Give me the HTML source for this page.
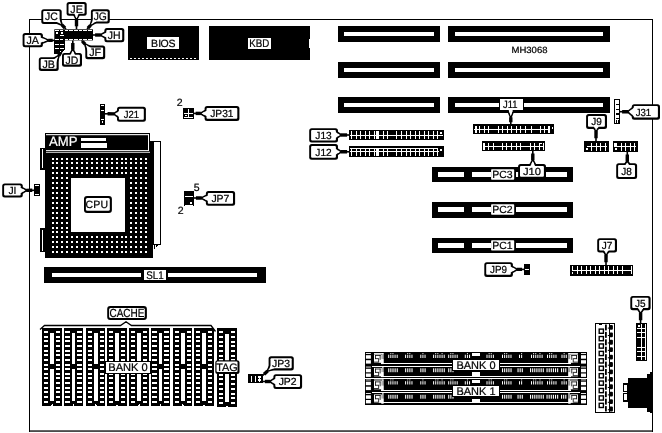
<!DOCTYPE html>
<html><head><meta charset="utf-8"><title>MH3068 motherboard layout</title>
<style>
html,body{margin:0;padding:0;background:#fff;}
body{width:662px;height:433px;overflow:hidden;}
svg{display:block;font-family:"Liberation Sans",Arial,sans-serif;will-change:transform;}
text{stroke-width:0.22px;}
</style></head><body>
<svg width="662" height="433" viewBox="0 0 662 433" shape-rendering="crispEdges" text-rendering="geometricPrecision">
<rect x="0" y="0" width="662" height="433" fill="#fff"/>
<rect x="29" y="19" width="624" height="1" fill="#000"/>
<rect x="29" y="19" width="1" height="412.5" fill="#000"/>
<rect x="652" y="19" width="1" height="412.5" fill="#000"/>
<rect x="29" y="430.4" width="624" height="1.3" fill="#000" shape-rendering="auto"/>
<polygon points="39.0006,36.75 41,36.8 49,40.4 41,43.6 39.0006,43.55" fill="#fff" stroke="#000" stroke-width="1.6" shape-rendering="auto"/>
<line x1="49" y1="40.4" x2="54.3" y2="40.4" stroke="#000" stroke-width="1.6" shape-rendering="auto"/>
<line x1="48.2002" y1="40.38" x2="52.71" y2="40.4" stroke="#000" stroke-width="3.4" shape-rendering="auto"/>
<rect x="22.6" y="33" width="20.3" height="14.3" rx="2.5" fill="#000" shape-rendering="auto"/>
<rect x="24.5" y="34.9" width="16.3" height="10.3" rx="1" fill="#fff" shape-rendering="auto"/>
<polygon points="37.5011,37.7125 41,37.8 47.0006,40.35 41,42.6 37.5011,42.5125" fill="#fff" shape-rendering="auto"/>
<text x="32.65" y="43.884" font-size="10.8" stroke="#000" text-anchor="middle" textLength="12.5" lengthAdjust="spacingAndGlyphs">JA</text>
<polygon points="54.1225,21.05 55.5,22.5 62.5,25.5 60,18.5 58.6225,17.05" fill="#fff" stroke="#000" stroke-width="1.6" shape-rendering="auto"/>
<line x1="62.5" y1="25.5" x2="66" y2="29" stroke="#000" stroke-width="1.6" shape-rendering="auto"/>
<line x1="61.949" y1="24.92" x2="64.95" y2="27.95" stroke="#000" stroke-width="3.4" shape-rendering="auto"/>
<rect x="41.3" y="9.2" width="20.4" height="14.8" rx="2.5" fill="#000" shape-rendering="auto"/>
<rect x="43.2" y="11.1" width="16.4" height="10.8" rx="1" fill="#fff" shape-rendering="auto"/>
<polygon points="53.8368,19.2981 56.2474,21.8356 61.1225,24.05 59.2526,19.1644 56.842,16.6269" fill="#fff" shape-rendering="auto"/>
<text x="51.4" y="20.334" font-size="10.8" stroke="#000" text-anchor="middle" textLength="12.8" lengthAdjust="spacingAndGlyphs">JC</text>
<polygon points="73.5,12 73.5,14 76.5,20 79.5,14 79.5,12" fill="#fff" stroke="#000" stroke-width="1.6" shape-rendering="auto"/>
<line x1="76.5" y1="20" x2="76.5" y2="29" stroke="#000" stroke-width="1.6" shape-rendering="auto"/>
<line x1="76.5" y1="19.2" x2="76.5" y2="26.3" stroke="#000" stroke-width="3.4" shape-rendering="auto"/>
<rect x="66.6" y="2.1" width="20.1" height="13.7" rx="2.5" fill="#000" shape-rendering="auto"/>
<rect x="68.5" y="4" width="16.1" height="9.7" rx="1" fill="#fff" shape-rendering="auto"/>
<polygon points="74.5,10.5 74.5,14 76.5,18 78.5,14 78.5,10.5" fill="#fff" shape-rendering="auto"/>
<text x="76.55" y="12.684" font-size="10.8" stroke="#000" text-anchor="middle" textLength="12.5" lengthAdjust="spacingAndGlyphs">JE</text>
<polygon points="93.7414,16.4319 92.5,18 90,26 97,22 98.2414,20.4319" fill="#fff" stroke="#000" stroke-width="1.6" shape-rendering="auto"/>
<line x1="90" y1="26" x2="87" y2="29" stroke="#000" stroke-width="1.6" shape-rendering="auto"/>
<line x1="90.4966" y1="25.3728" x2="87.9" y2="28.1" stroke="#000" stroke-width="3.4" shape-rendering="auto"/>
<rect x="90.9" y="9.3" width="18.9" height="14.2" rx="2.5" fill="#000" shape-rendering="auto"/>
<rect x="92.8" y="11.2" width="14.9" height="10.2" rx="1" fill="#fff" shape-rendering="auto"/>
<polygon points="95.4199,15.9202 93.2474,18.6644 91.2414,24.4319 96.2526,21.3356 98.4251,18.5915" fill="#fff" shape-rendering="auto"/>
<text x="100.25" y="20.134" font-size="10.8" stroke="#000" text-anchor="middle" textLength="13.2" lengthAdjust="spacingAndGlyphs">JG</text>
<polygon points="108.3,31.5 106.3,31.5 100,35 106.3,38.5 108.3,38.5" fill="#fff" stroke="#000" stroke-width="1.6" shape-rendering="auto"/>
<line x1="100" y1="35" x2="93" y2="35" stroke="#000" stroke-width="1.6" shape-rendering="auto"/>
<line x1="100.8" y1="35" x2="95.1" y2="35" stroke="#000" stroke-width="3.4" shape-rendering="auto"/>
<rect x="104.4" y="28" width="19.9" height="14.3" rx="2.5" fill="#000" shape-rendering="auto"/>
<rect x="106.3" y="29.9" width="15.9" height="10.3" rx="1" fill="#fff" shape-rendering="auto"/>
<polygon points="109.8,32.5 106.3,32.5 102,35 106.3,37.5 109.8,37.5" fill="#fff" shape-rendering="auto"/>
<text x="114.25" y="38.884" font-size="10.8" stroke="#000" text-anchor="middle" textLength="12.8" lengthAdjust="spacingAndGlyphs">JH</text>
<polygon points="88.293,53.0258 87,51.5 84.5,43.5 92,47.3 93.293,48.8258" fill="#fff" stroke="#000" stroke-width="1.6" shape-rendering="auto"/>
<line x1="84.5" y1="43.5" x2="81.5" y2="40.5" stroke="#000" stroke-width="1.6" shape-rendering="auto"/>
<line x1="85.0172" y1="44.1103" x2="82.4" y2="41.4" stroke="#000" stroke-width="3.4" shape-rendering="auto"/>
<rect x="85.3" y="45.6" width="19.9" height="13.6" rx="2.5" fill="#000" shape-rendering="auto"/>
<rect x="87.2" y="47.5" width="15.9" height="9.6" rx="1" fill="#fff" shape-rendering="auto"/>
<polygon points="90.0285,53.5269 87.7657,50.8568 85.793,45.0258 91.2343,47.9432 93.4971,50.6133" fill="#fff" shape-rendering="auto"/>
<text x="95.15" y="56.134" font-size="10.8" stroke="#000" text-anchor="middle" textLength="12" lengthAdjust="spacingAndGlyphs">JF</text>
<polygon points="69.4828,56.7999 69.5,54.8 72.8,49 76,54.8 75.9828,56.7999" fill="#fff" stroke="#000" stroke-width="1.6" shape-rendering="auto"/>
<line x1="72.8" y1="49" x2="72.8" y2="40.5" stroke="#000" stroke-width="1.6" shape-rendering="auto"/>
<line x1="72.7931" y1="49.8" x2="72.8" y2="43.05" stroke="#000" stroke-width="3.4" shape-rendering="auto"/>
<rect x="62" y="52.9" width="20" height="13.8" rx="2.5" fill="#000" shape-rendering="auto"/>
<rect x="63.9" y="54.8" width="16" height="9.8" rx="1" fill="#fff" shape-rendering="auto"/>
<polygon points="70.4698,58.2999 70.5,54.8 72.7828,50.9999 75,54.8 74.9698,58.2999" fill="#fff" shape-rendering="auto"/>
<text x="71.9" y="63.534" font-size="10.8" stroke="#000" text-anchor="middle" textLength="12.8" lengthAdjust="spacingAndGlyphs">JD</text>
<polygon points="51.2915,60.5936 52.5,59 59.3,55 57,63 55.7915,64.5936" fill="#fff" stroke="#000" stroke-width="1.6" shape-rendering="auto"/>
<line x1="59.3" y1="55" x2="61.8" y2="50.5" stroke="#000" stroke-width="1.6" shape-rendering="auto"/>
<line x1="58.8166" y1="55.6374" x2="61.05" y2="51.85" stroke="#000" stroke-width="3.4" shape-rendering="auto"/>
<rect x="38.8" y="57.2" width="19.9" height="13.7" rx="2.5" fill="#000" shape-rendering="auto"/>
<rect x="40.7" y="59.1" width="15.9" height="9.7" rx="1" fill="#fff" shape-rendering="auto"/>
<polygon points="51.1326,62.4532 53.2474,59.6644 58.0915,56.5936 56.2526,62.3356 54.1377,65.1244" fill="#fff" shape-rendering="auto"/>
<text x="48.65" y="67.784" font-size="10.8" stroke="#000" text-anchor="middle" textLength="12.5" lengthAdjust="spacingAndGlyphs">JB</text>
<rect x="54.3" y="29.3" width="38.7" height="11.1" fill="#000" shape-rendering="auto"/>
<polygon points="54.3,40 64.5,40 64.5,50 61,53.5 54.3,53.5" fill="#000" stroke="none" stroke-width="1"/>
<rect x="55.2" y="30" width="3.5" height="1" fill="#fff"/>
<rect x="55.2" y="39" width="3.5" height="1" fill="#fff"/>
<rect x="59.9" y="30" width="3.5" height="1" fill="#fff"/>
<rect x="59.9" y="39" width="3.5" height="1" fill="#fff"/>
<rect x="64.6" y="30" width="3.5" height="1" fill="#fff"/>
<rect x="64.6" y="39" width="3.5" height="1" fill="#fff"/>
<rect x="69.3" y="30" width="3.5" height="1" fill="#fff"/>
<rect x="69.3" y="39" width="3.5" height="1" fill="#fff"/>
<rect x="74" y="30" width="3.5" height="1" fill="#fff"/>
<rect x="74" y="39" width="3.5" height="1" fill="#fff"/>
<rect x="78.7" y="30" width="3.5" height="1" fill="#fff"/>
<rect x="78.7" y="39" width="3.5" height="1" fill="#fff"/>
<rect x="83.4" y="30" width="3.5" height="1" fill="#fff"/>
<rect x="83.4" y="39" width="3.5" height="1" fill="#fff"/>
<rect x="88.1" y="30" width="3.5" height="1" fill="#fff"/>
<rect x="88.1" y="39" width="3.5" height="1" fill="#fff"/>
<rect x="55.9" y="32" width="1.9" height="1.9" fill="#fff"/>
<rect x="61" y="32" width="2" height="1.9" fill="#fff"/>
<rect x="59.8" y="35" width="3.9" height="1" fill="#fff"/>
<rect x="55" y="44.3" width="3.6" height="1" fill="#fff"/>
<rect x="59.8" y="44.3" width="3.9" height="1" fill="#fff"/>
<rect x="55" y="48.2" width="3.6" height="1" fill="#fff"/>
<rect x="59.8" y="48.2" width="3.9" height="1" fill="#fff"/>
<rect x="59.8" y="51" width="1" height="1" fill="#fff"/>
<rect x="128" y="26" width="70.7" height="33.6" fill="#000"/>
<rect x="129.5" y="57.6" width="2" height="1" fill="#fff"/>
<rect x="133.5" y="57.6" width="2" height="1" fill="#fff"/>
<rect x="137.5" y="57.6" width="2" height="1" fill="#fff"/>
<rect x="141.5" y="57.6" width="2" height="1" fill="#fff"/>
<rect x="145.5" y="57.6" width="2" height="1" fill="#fff"/>
<rect x="149.5" y="57.6" width="2" height="1" fill="#fff"/>
<rect x="153.5" y="57.6" width="2" height="1" fill="#fff"/>
<rect x="157.5" y="57.6" width="2" height="1" fill="#fff"/>
<rect x="161.5" y="57.6" width="2" height="1" fill="#fff"/>
<rect x="165.5" y="57.6" width="2" height="1" fill="#fff"/>
<rect x="169.5" y="57.6" width="2" height="1" fill="#fff"/>
<rect x="173.5" y="57.6" width="2" height="1" fill="#fff"/>
<rect x="177.5" y="57.6" width="2" height="1" fill="#fff"/>
<rect x="181.5" y="57.6" width="2" height="1" fill="#fff"/>
<rect x="185.5" y="57.6" width="2" height="1" fill="#fff"/>
<rect x="189.5" y="57.6" width="2" height="1" fill="#fff"/>
<rect x="193.5" y="57.6" width="2" height="1" fill="#fff"/>
<rect x="146.9" y="37.3" width="32.3" height="11.4" fill="#fff"/>
<text x="151 158.3 160.6 168.4" y="46.9" font-size="10.5" stroke="#000">BIOS</text>
<rect x="209" y="26" width="101" height="34" fill="#000"/>
<rect x="308.5" y="39" width="1.5" height="9" fill="#fff"/>
<rect x="248" y="37.7" width="22.8" height="11.3" fill="#fff"/>
<text x="259.2" y="47" font-size="11" fill="#000" stroke="#000" text-anchor="middle" textLength="20" lengthAdjust="spacingAndGlyphs">KBD</text>
<rect x="338" y="26" width="102" height="16" fill="#000"/>
<rect x="344" y="32" width="90" height="4" fill="#fff"/>
<rect x="448" y="26" width="162" height="16" fill="#000"/>
<rect x="455" y="32" width="148" height="4" fill="#fff"/>
<rect x="338" y="62" width="102" height="16" fill="#000"/>
<rect x="344" y="68" width="90" height="4" fill="#fff"/>
<rect x="448" y="62" width="162" height="16" fill="#000"/>
<rect x="455" y="68" width="148" height="4" fill="#fff"/>
<rect x="338" y="97" width="102" height="16" fill="#000"/>
<rect x="344" y="103" width="90" height="4" fill="#fff"/>
<rect x="448" y="97" width="162" height="16" fill="#000"/>
<rect x="455" y="103" width="148" height="4" fill="#fff"/>
<text x="511.5" y="52.6" font-size="9" fill="#000" stroke="#000" text-anchor="start" textLength="36" lengthAdjust="spacingAndGlyphs">MH3068</text>
<polygon points="120.999,110.073 119,110 113.5,113.8 119,118 120.999,118.073" fill="#fff" stroke="#000" stroke-width="1.6" shape-rendering="auto"/>
<line x1="113.5" y1="113.8" x2="105" y2="113.8" stroke="#000" stroke-width="1.6" shape-rendering="auto"/>
<line x1="114.299" y1="113.829" x2="107.55" y2="113.8" stroke="#000" stroke-width="3.4" shape-rendering="auto"/>
<rect x="117" y="106.8" width="28.9" height="15" rx="2.5" fill="#000" shape-rendering="auto"/>
<rect x="118.9" y="108.7" width="24.9" height="11" rx="1" fill="#fff" shape-rendering="auto"/>
<polygon points="122.498,111.127 119,111 115.499,113.873 119,117 122.498,117.127" fill="#fff" shape-rendering="auto"/>
<text x="131.35" y="117.856" font-size="10.3" stroke="#000" text-anchor="middle" textLength="15.3" lengthAdjust="spacingAndGlyphs">J21</text>
<rect x="100.1" y="103.9" width="5" height="20.9" fill="#000"/>
<rect x="101.2" y="105" width="2.8" height="1" fill="#fff"/>
<rect x="101.2" y="110" width="2.8" height="1" fill="#fff"/>
<rect x="101.2" y="119" width="2.8" height="1.2" fill="#fff"/>
<rect x="102" y="121.3" width="1.3" height="1.7" fill="#fff"/>
<polygon points="208.5,109.7 206.5,109.7 200,113.4 206.5,117.1 208.5,117.1" fill="#fff" stroke="#000" stroke-width="1.6" shape-rendering="auto"/>
<line x1="200" y1="113.4" x2="193.8" y2="113.4" stroke="#000" stroke-width="1.6" shape-rendering="auto"/>
<line x1="200.8" y1="113.4" x2="195.66" y2="113.4" stroke="#000" stroke-width="3.4" shape-rendering="auto"/>
<rect x="204.6" y="106.1" width="34.8" height="14.8" rx="2.5" fill="#000" shape-rendering="auto"/>
<rect x="206.5" y="108" width="30.8" height="10.8" rx="1" fill="#fff" shape-rendering="auto"/>
<polygon points="210,110.7 206.5,110.7 202,113.4 206.5,116.1 210,116.1" fill="#fff" shape-rendering="auto"/>
<text x="221.9" y="117.056" font-size="10.3" stroke="#000" text-anchor="middle" textLength="23.3" lengthAdjust="spacingAndGlyphs">JP31</text>
<rect x="182.8" y="108" width="11" height="11" fill="#000"/>
<rect x="188" y="109.3" width="1" height="8" fill="#fff"/>
<rect x="184.2" y="112.5" width="8.7" height="1" fill="#fff"/>
<rect x="184.2" y="117" width="8.7" height="1" fill="#fff"/>
<rect x="185" y="115" width="2" height="1.2" fill="#fff"/>
<text x="176.8" y="105.6" font-size="10.5" fill="#000" stroke="#000" text-anchor="start">2</text>
<polygon points="209.499,194.762 207.5,194.7 201,198 207.5,201.7 209.499,201.762" fill="#fff" stroke="#000" stroke-width="1.6" shape-rendering="auto"/>
<line x1="201" y1="198" x2="193.8" y2="198" stroke="#000" stroke-width="1.6" shape-rendering="auto"/>
<line x1="201.8" y1="198.025" x2="195.96" y2="198" stroke="#000" stroke-width="3.4" shape-rendering="auto"/>
<rect x="205.9" y="191" width="29.2" height="14.8" rx="2.5" fill="#000" shape-rendering="auto"/>
<rect x="207.8" y="192.9" width="25.2" height="10.8" rx="1" fill="#fff" shape-rendering="auto"/>
<polygon points="210.998,195.808 207.5,195.7 202.999,198.062 207.5,200.7 210.998,200.808" fill="#fff" shape-rendering="auto"/>
<text x="220.4" y="201.957" font-size="10.3" stroke="#000" text-anchor="middle" textLength="18" lengthAdjust="spacingAndGlyphs">JP7</text>
<rect x="184" y="191.1" width="9.8" height="15.3" fill="#000"/>
<rect x="184.8" y="196" width="8" height="1" fill="#fff"/>
<rect x="184.8" y="204.8" width="8" height="1" fill="#fff"/>
<rect x="190" y="201.7" width="2" height="2" fill="#fff"/>
<text x="193.8" y="190.5" font-size="10.5" fill="#000" stroke="#000" text-anchor="start">5</text>
<text x="177.8" y="213.8" font-size="10.5" fill="#000" stroke="#000" text-anchor="start">2</text>
<rect x="45" y="133" width="105.3" height="20" fill="#000"/>
<rect x="45" y="152" width="108.3" height="106" fill="#000"/>
<rect x="46" y="134.1" width="103" height="1.1" fill="#fff" shape-rendering="auto"/>
<rect x="148" y="134.1" width="1" height="16.9" fill="#fff" shape-rendering="auto"/>
<rect x="46" y="150.1" width="103" height="0.9" fill="#fff" shape-rendering="auto"/>
<rect x="46" y="151.8" width="104" height="0.9" fill="#fff" shape-rendering="auto"/>
<text x="49" y="145.7" font-size="13.5" fill="#fff" stroke="#fff" text-anchor="start" textLength="28.5" lengthAdjust="spacingAndGlyphs">AMP</text>
<rect x="81" y="138" width="25" height="3" fill="#fff"/>
<rect x="81" y="142.5" width="26" height="5.5" fill="#fff"/>
<rect x="150" y="140.5" width="11.3" height="104.5" fill="#000"/>
<rect x="154.4" y="141.7" width="5.9" height="102" fill="#fff"/>
<polygon points="153.5,245 158,245 153.5,250" fill="#000" stroke="none" stroke-width="1"/>
<rect x="154.5" y="245" width="1.5" height="3" fill="#fff"/>
<rect x="40.3" y="147.5" width="5" height="22" fill="#000"/>
<rect x="41.8" y="149" width="1.6" height="19" fill="#fff"/>
<rect x="40.3" y="228" width="5" height="24" fill="#000"/>
<rect x="41.8" y="229.5" width="1.6" height="21" fill="#fff"/>
<rect x="51.5" y="157.5" width="2" height="2" fill="#fff"/>
<rect x="56" y="157.5" width="2" height="2" fill="#fff"/>
<rect x="61" y="157.5" width="2" height="2" fill="#fff"/>
<rect x="66" y="157.5" width="2" height="2" fill="#fff"/>
<rect x="71" y="157.5" width="2" height="2" fill="#fff"/>
<rect x="76" y="157.5" width="2" height="2" fill="#fff"/>
<rect x="81" y="157.5" width="2" height="2" fill="#fff"/>
<rect x="86" y="157.5" width="2" height="2" fill="#fff"/>
<rect x="90.5" y="157.5" width="2" height="2" fill="#fff"/>
<rect x="95.5" y="157.5" width="2" height="2" fill="#fff"/>
<rect x="100.5" y="157.5" width="2" height="2" fill="#fff"/>
<rect x="105.5" y="157.5" width="2" height="2" fill="#fff"/>
<rect x="110.5" y="157.5" width="2" height="2" fill="#fff"/>
<rect x="115.5" y="157.5" width="2" height="2" fill="#fff"/>
<rect x="120.5" y="157.5" width="2" height="2" fill="#fff"/>
<rect x="125" y="157.5" width="2" height="2" fill="#fff"/>
<rect x="130" y="157.5" width="2" height="2" fill="#fff"/>
<rect x="135" y="157.5" width="2" height="2" fill="#fff"/>
<rect x="140" y="157.5" width="2" height="2" fill="#fff"/>
<rect x="145" y="157.5" width="2" height="2" fill="#fff"/>
<rect x="51.5" y="162" width="2" height="2" fill="#fff"/>
<rect x="56" y="162" width="2" height="2" fill="#fff"/>
<rect x="61" y="162" width="2" height="2" fill="#fff"/>
<rect x="66" y="162" width="2" height="2" fill="#fff"/>
<rect x="71" y="162" width="2" height="2" fill="#fff"/>
<rect x="76" y="162" width="2" height="2" fill="#fff"/>
<rect x="81" y="162" width="2" height="2" fill="#fff"/>
<rect x="86" y="162" width="2" height="2" fill="#fff"/>
<rect x="90.5" y="162" width="2" height="2" fill="#fff"/>
<rect x="95.5" y="162" width="2" height="2" fill="#fff"/>
<rect x="100.5" y="162" width="2" height="2" fill="#fff"/>
<rect x="105.5" y="162" width="2" height="2" fill="#fff"/>
<rect x="110.5" y="162" width="2" height="2" fill="#fff"/>
<rect x="115.5" y="162" width="2" height="2" fill="#fff"/>
<rect x="120.5" y="162" width="2" height="2" fill="#fff"/>
<rect x="125" y="162" width="2" height="2" fill="#fff"/>
<rect x="130" y="162" width="2" height="2" fill="#fff"/>
<rect x="135" y="162" width="2" height="2" fill="#fff"/>
<rect x="140" y="162" width="2" height="2" fill="#fff"/>
<rect x="145" y="162" width="2" height="2" fill="#fff"/>
<rect x="51.5" y="167" width="2" height="2" fill="#fff"/>
<rect x="56" y="167" width="2" height="2" fill="#fff"/>
<rect x="61" y="167" width="2" height="2" fill="#fff"/>
<rect x="66" y="167" width="2" height="2" fill="#fff"/>
<rect x="71" y="167" width="2" height="2" fill="#fff"/>
<rect x="76" y="167" width="2" height="2" fill="#fff"/>
<rect x="81" y="167" width="2" height="2" fill="#fff"/>
<rect x="86" y="167" width="2" height="2" fill="#fff"/>
<rect x="90.5" y="167" width="2" height="2" fill="#fff"/>
<rect x="95.5" y="167" width="2" height="2" fill="#fff"/>
<rect x="100.5" y="167" width="2" height="2" fill="#fff"/>
<rect x="105.5" y="167" width="2" height="2" fill="#fff"/>
<rect x="110.5" y="167" width="2" height="2" fill="#fff"/>
<rect x="115.5" y="167" width="2" height="2" fill="#fff"/>
<rect x="120.5" y="167" width="2" height="2" fill="#fff"/>
<rect x="125" y="167" width="2" height="2" fill="#fff"/>
<rect x="130" y="167" width="2" height="2" fill="#fff"/>
<rect x="135" y="167" width="2" height="2" fill="#fff"/>
<rect x="140" y="167" width="2" height="2" fill="#fff"/>
<rect x="145" y="167" width="2" height="2" fill="#fff"/>
<rect x="51.5" y="172" width="2" height="2" fill="#fff"/>
<rect x="56" y="172" width="2" height="2" fill="#fff"/>
<rect x="61" y="172" width="2" height="2" fill="#fff"/>
<rect x="66" y="172" width="2" height="2" fill="#fff"/>
<rect x="71" y="172" width="2" height="2" fill="#fff"/>
<rect x="76" y="172" width="2" height="2" fill="#fff"/>
<rect x="81" y="172" width="2" height="2" fill="#fff"/>
<rect x="86" y="172" width="2" height="2" fill="#fff"/>
<rect x="90.5" y="172" width="2" height="2" fill="#fff"/>
<rect x="95.5" y="172" width="2" height="2" fill="#fff"/>
<rect x="100.5" y="172" width="2" height="2" fill="#fff"/>
<rect x="105.5" y="172" width="2" height="2" fill="#fff"/>
<rect x="110.5" y="172" width="2" height="2" fill="#fff"/>
<rect x="115.5" y="172" width="2" height="2" fill="#fff"/>
<rect x="120.5" y="172" width="2" height="2" fill="#fff"/>
<rect x="125" y="172" width="2" height="2" fill="#fff"/>
<rect x="130" y="172" width="2" height="2" fill="#fff"/>
<rect x="135" y="172" width="2" height="2" fill="#fff"/>
<rect x="140" y="172" width="2" height="2" fill="#fff"/>
<rect x="145" y="172" width="2" height="2" fill="#fff"/>
<rect x="51.5" y="177" width="2" height="2" fill="#fff"/>
<rect x="56" y="177" width="2" height="2" fill="#fff"/>
<rect x="61" y="177" width="2" height="2" fill="#fff"/>
<rect x="66" y="177" width="2" height="2" fill="#fff"/>
<rect x="130" y="177" width="2" height="2" fill="#fff"/>
<rect x="135" y="177" width="2" height="2" fill="#fff"/>
<rect x="140" y="177" width="2" height="2" fill="#fff"/>
<rect x="145" y="177" width="2" height="2" fill="#fff"/>
<rect x="51.5" y="182" width="2" height="2" fill="#fff"/>
<rect x="56" y="182" width="2" height="2" fill="#fff"/>
<rect x="61" y="182" width="2" height="2" fill="#fff"/>
<rect x="66" y="182" width="2" height="2" fill="#fff"/>
<rect x="130" y="182" width="2" height="2" fill="#fff"/>
<rect x="135" y="182" width="2" height="2" fill="#fff"/>
<rect x="140" y="182" width="2" height="2" fill="#fff"/>
<rect x="145" y="182" width="2" height="2" fill="#fff"/>
<rect x="51.5" y="187" width="2" height="2" fill="#fff"/>
<rect x="56" y="187" width="2" height="2" fill="#fff"/>
<rect x="61" y="187" width="2" height="2" fill="#fff"/>
<rect x="66" y="187" width="2" height="2" fill="#fff"/>
<rect x="130" y="187" width="2" height="2" fill="#fff"/>
<rect x="135" y="187" width="2" height="2" fill="#fff"/>
<rect x="140" y="187" width="2" height="2" fill="#fff"/>
<rect x="145" y="187" width="2" height="2" fill="#fff"/>
<rect x="51.5" y="192" width="2" height="2" fill="#fff"/>
<rect x="56" y="192" width="2" height="2" fill="#fff"/>
<rect x="61" y="192" width="2" height="2" fill="#fff"/>
<rect x="66" y="192" width="2" height="2" fill="#fff"/>
<rect x="130" y="192" width="2" height="2" fill="#fff"/>
<rect x="135" y="192" width="2" height="2" fill="#fff"/>
<rect x="140" y="192" width="2" height="2" fill="#fff"/>
<rect x="145" y="192" width="2" height="2" fill="#fff"/>
<rect x="51.5" y="196.5" width="2" height="2" fill="#fff"/>
<rect x="56" y="196.5" width="2" height="2" fill="#fff"/>
<rect x="61" y="196.5" width="2" height="2" fill="#fff"/>
<rect x="66" y="196.5" width="2" height="2" fill="#fff"/>
<rect x="130" y="196.5" width="2" height="2" fill="#fff"/>
<rect x="135" y="196.5" width="2" height="2" fill="#fff"/>
<rect x="140" y="196.5" width="2" height="2" fill="#fff"/>
<rect x="145" y="196.5" width="2" height="2" fill="#fff"/>
<rect x="51.5" y="201.5" width="2" height="2" fill="#fff"/>
<rect x="56" y="201.5" width="2" height="2" fill="#fff"/>
<rect x="61" y="201.5" width="2" height="2" fill="#fff"/>
<rect x="66" y="201.5" width="2" height="2" fill="#fff"/>
<rect x="130" y="201.5" width="2" height="2" fill="#fff"/>
<rect x="135" y="201.5" width="2" height="2" fill="#fff"/>
<rect x="140" y="201.5" width="2" height="2" fill="#fff"/>
<rect x="145" y="201.5" width="2" height="2" fill="#fff"/>
<rect x="51.5" y="206.5" width="2" height="2" fill="#fff"/>
<rect x="56" y="206.5" width="2" height="2" fill="#fff"/>
<rect x="61" y="206.5" width="2" height="2" fill="#fff"/>
<rect x="66" y="206.5" width="2" height="2" fill="#fff"/>
<rect x="130" y="206.5" width="2" height="2" fill="#fff"/>
<rect x="135" y="206.5" width="2" height="2" fill="#fff"/>
<rect x="140" y="206.5" width="2" height="2" fill="#fff"/>
<rect x="145" y="206.5" width="2" height="2" fill="#fff"/>
<rect x="51.5" y="211.5" width="2" height="2" fill="#fff"/>
<rect x="56" y="211.5" width="2" height="2" fill="#fff"/>
<rect x="61" y="211.5" width="2" height="2" fill="#fff"/>
<rect x="66" y="211.5" width="2" height="2" fill="#fff"/>
<rect x="130" y="211.5" width="2" height="2" fill="#fff"/>
<rect x="135" y="211.5" width="2" height="2" fill="#fff"/>
<rect x="140" y="211.5" width="2" height="2" fill="#fff"/>
<rect x="145" y="211.5" width="2" height="2" fill="#fff"/>
<rect x="51.5" y="216.5" width="2" height="2" fill="#fff"/>
<rect x="56" y="216.5" width="2" height="2" fill="#fff"/>
<rect x="61" y="216.5" width="2" height="2" fill="#fff"/>
<rect x="66" y="216.5" width="2" height="2" fill="#fff"/>
<rect x="130" y="216.5" width="2" height="2" fill="#fff"/>
<rect x="135" y="216.5" width="2" height="2" fill="#fff"/>
<rect x="140" y="216.5" width="2" height="2" fill="#fff"/>
<rect x="145" y="216.5" width="2" height="2" fill="#fff"/>
<rect x="51.5" y="221.5" width="2" height="2" fill="#fff"/>
<rect x="56" y="221.5" width="2" height="2" fill="#fff"/>
<rect x="61" y="221.5" width="2" height="2" fill="#fff"/>
<rect x="66" y="221.5" width="2" height="2" fill="#fff"/>
<rect x="130" y="221.5" width="2" height="2" fill="#fff"/>
<rect x="135" y="221.5" width="2" height="2" fill="#fff"/>
<rect x="140" y="221.5" width="2" height="2" fill="#fff"/>
<rect x="145" y="221.5" width="2" height="2" fill="#fff"/>
<rect x="51.5" y="226.5" width="2" height="2" fill="#fff"/>
<rect x="56" y="226.5" width="2" height="2" fill="#fff"/>
<rect x="61" y="226.5" width="2" height="2" fill="#fff"/>
<rect x="66" y="226.5" width="2" height="2" fill="#fff"/>
<rect x="130" y="226.5" width="2" height="2" fill="#fff"/>
<rect x="135" y="226.5" width="2" height="2" fill="#fff"/>
<rect x="140" y="226.5" width="2" height="2" fill="#fff"/>
<rect x="145" y="226.5" width="2" height="2" fill="#fff"/>
<rect x="51.5" y="231" width="2" height="2" fill="#fff"/>
<rect x="56" y="231" width="2" height="2" fill="#fff"/>
<rect x="61" y="231" width="2" height="2" fill="#fff"/>
<rect x="66" y="231" width="2" height="2" fill="#fff"/>
<rect x="130" y="231" width="2" height="2" fill="#fff"/>
<rect x="135" y="231" width="2" height="2" fill="#fff"/>
<rect x="140" y="231" width="2" height="2" fill="#fff"/>
<rect x="145" y="231" width="2" height="2" fill="#fff"/>
<rect x="51.5" y="236" width="2" height="2" fill="#fff"/>
<rect x="56" y="236" width="2" height="2" fill="#fff"/>
<rect x="61" y="236" width="2" height="2" fill="#fff"/>
<rect x="66" y="236" width="2" height="2" fill="#fff"/>
<rect x="71" y="236" width="2" height="2" fill="#fff"/>
<rect x="76" y="236" width="2" height="2" fill="#fff"/>
<rect x="81" y="236" width="2" height="2" fill="#fff"/>
<rect x="86" y="236" width="2" height="2" fill="#fff"/>
<rect x="90.5" y="236" width="2" height="2" fill="#fff"/>
<rect x="95.5" y="236" width="2" height="2" fill="#fff"/>
<rect x="100.5" y="236" width="2" height="2" fill="#fff"/>
<rect x="105.5" y="236" width="2" height="2" fill="#fff"/>
<rect x="110.5" y="236" width="2" height="2" fill="#fff"/>
<rect x="115.5" y="236" width="2" height="2" fill="#fff"/>
<rect x="120.5" y="236" width="2" height="2" fill="#fff"/>
<rect x="125" y="236" width="2" height="2" fill="#fff"/>
<rect x="130" y="236" width="2" height="2" fill="#fff"/>
<rect x="135" y="236" width="2" height="2" fill="#fff"/>
<rect x="140" y="236" width="2" height="2" fill="#fff"/>
<rect x="145" y="236" width="2" height="2" fill="#fff"/>
<rect x="51.5" y="241" width="2" height="2" fill="#fff"/>
<rect x="56" y="241" width="2" height="2" fill="#fff"/>
<rect x="61" y="241" width="2" height="2" fill="#fff"/>
<rect x="66" y="241" width="2" height="2" fill="#fff"/>
<rect x="71" y="241" width="2" height="2" fill="#fff"/>
<rect x="76" y="241" width="2" height="2" fill="#fff"/>
<rect x="81" y="241" width="2" height="2" fill="#fff"/>
<rect x="86" y="241" width="2" height="2" fill="#fff"/>
<rect x="90.5" y="241" width="2" height="2" fill="#fff"/>
<rect x="95.5" y="241" width="2" height="2" fill="#fff"/>
<rect x="100.5" y="241" width="2" height="2" fill="#fff"/>
<rect x="105.5" y="241" width="2" height="2" fill="#fff"/>
<rect x="110.5" y="241" width="2" height="2" fill="#fff"/>
<rect x="115.5" y="241" width="2" height="2" fill="#fff"/>
<rect x="120.5" y="241" width="2" height="2" fill="#fff"/>
<rect x="125" y="241" width="2" height="2" fill="#fff"/>
<rect x="130" y="241" width="2" height="2" fill="#fff"/>
<rect x="135" y="241" width="2" height="2" fill="#fff"/>
<rect x="140" y="241" width="2" height="2" fill="#fff"/>
<rect x="145" y="241" width="2" height="2" fill="#fff"/>
<rect x="51.5" y="246" width="2" height="2" fill="#fff"/>
<rect x="56" y="246" width="2" height="2" fill="#fff"/>
<rect x="61" y="246" width="2" height="2" fill="#fff"/>
<rect x="66" y="246" width="2" height="2" fill="#fff"/>
<rect x="71" y="246" width="2" height="2" fill="#fff"/>
<rect x="76" y="246" width="2" height="2" fill="#fff"/>
<rect x="81" y="246" width="2" height="2" fill="#fff"/>
<rect x="86" y="246" width="2" height="2" fill="#fff"/>
<rect x="90.5" y="246" width="2" height="2" fill="#fff"/>
<rect x="95.5" y="246" width="2" height="2" fill="#fff"/>
<rect x="100.5" y="246" width="2" height="2" fill="#fff"/>
<rect x="105.5" y="246" width="2" height="2" fill="#fff"/>
<rect x="110.5" y="246" width="2" height="2" fill="#fff"/>
<rect x="115.5" y="246" width="2" height="2" fill="#fff"/>
<rect x="120.5" y="246" width="2" height="2" fill="#fff"/>
<rect x="125" y="246" width="2" height="2" fill="#fff"/>
<rect x="130" y="246" width="2" height="2" fill="#fff"/>
<rect x="135" y="246" width="2" height="2" fill="#fff"/>
<rect x="140" y="246" width="2" height="2" fill="#fff"/>
<rect x="145" y="246" width="2" height="2" fill="#fff"/>
<rect x="51.5" y="251" width="2" height="2" fill="#fff"/>
<rect x="56" y="251" width="2" height="2" fill="#fff"/>
<rect x="61" y="251" width="2" height="2" fill="#fff"/>
<rect x="66" y="251" width="2" height="2" fill="#fff"/>
<rect x="71" y="251" width="2" height="2" fill="#fff"/>
<rect x="76" y="251" width="2" height="2" fill="#fff"/>
<rect x="81" y="251" width="2" height="2" fill="#fff"/>
<rect x="86" y="251" width="2" height="2" fill="#fff"/>
<rect x="90.5" y="251" width="2" height="2" fill="#fff"/>
<rect x="95.5" y="251" width="2" height="2" fill="#fff"/>
<rect x="100.5" y="251" width="2" height="2" fill="#fff"/>
<rect x="105.5" y="251" width="2" height="2" fill="#fff"/>
<rect x="110.5" y="251" width="2" height="2" fill="#fff"/>
<rect x="115.5" y="251" width="2" height="2" fill="#fff"/>
<rect x="120.5" y="251" width="2" height="2" fill="#fff"/>
<rect x="125" y="251" width="2" height="2" fill="#fff"/>
<rect x="130" y="251" width="2" height="2" fill="#fff"/>
<rect x="135" y="251" width="2" height="2" fill="#fff"/>
<rect x="140" y="251" width="2" height="2" fill="#fff"/>
<rect x="145" y="251" width="2" height="2" fill="#fff"/>
<rect x="71" y="177.5" width="54" height="54.7" fill="#fff"/>
<rect x="84" y="196" width="27.9" height="16.9" rx="3" fill="#000" shape-rendering="auto"/>
<rect x="85.9" y="197.9" width="23.9" height="12.9" rx="1.5" fill="#fff" shape-rendering="auto"/>
<text x="85.6 93.2 100.4" y="207.6" font-size="10.5" stroke="#000">CPU</text>
<polygon points="19.0011,187.067 21,187 27,190.3 21,194 19.0011,194.067" fill="#fff" stroke="#000" stroke-width="1.6" shape-rendering="auto"/>
<line x1="27" y1="190.3" x2="34.5" y2="190.3" stroke="#000" stroke-width="1.6" shape-rendering="auto"/>
<line x1="26.2004" y1="190.327" x2="32.25" y2="190.3" stroke="#000" stroke-width="3.4" shape-rendering="auto"/>
<rect x="2.2" y="183.4" width="20.6" height="14.1" rx="2.5" fill="#000" shape-rendering="auto"/>
<rect x="4.1" y="185.3" width="16.6" height="10.1" rx="1" fill="#fff" shape-rendering="auto"/>
<polygon points="17.5019,188.117 21,188 25.0011,190.367 21,193 17.5019,193.117" fill="#fff" shape-rendering="auto"/>
<text x="12.4" y="194.006" font-size="10.3" stroke="#000" text-anchor="middle" textLength="8" lengthAdjust="spacingAndGlyphs">JI</text>
<rect x="34.2" y="183.9" width="5.7" height="11.8" fill="#000"/>
<rect x="35.3" y="185" width="3.4" height="1" fill="#fff"/>
<rect x="35.3" y="194" width="3.4" height="1" fill="#fff"/>
<rect x="44" y="267" width="222" height="16" fill="#000"/>
<rect x="51.5" y="273" width="205.5" height="4" fill="#fff"/>
<rect x="141" y="272" width="27.3" height="6" fill="#000"/>
<rect x="143.7" y="270.2" width="22.4" height="10" fill="#fff"/>
<text x="155" y="279.1" font-size="11" fill="#000" stroke="#000" text-anchor="middle" textLength="17.5" lengthAdjust="spacingAndGlyphs">SL1</text>
<rect x="107.2" y="306.1" width="39.7" height="13.9" rx="3" fill="#000" shape-rendering="auto"/>
<rect x="109.1" y="308" width="35.7" height="9.9" rx="1.5" fill="#fff" shape-rendering="auto"/>
<text x="126.95" y="317.139" font-size="11.8" stroke="#000" text-anchor="middle" textLength="35" lengthAdjust="spacingAndGlyphs">CACHE</text>
<path d="M40,329.5 L44.5,325.5 L120.5,325.5 L126,321.7 L131.5,325.5 L211,325.5 L215.5,331.5" fill="none" stroke="#000" stroke-width="1.3" shape-rendering="auto"/>
<rect x="42.3" y="328" width="19.5" height="77.5" fill="#000"/>
<rect x="50.4" y="332.8" width="3.8" height="30.7" fill="#fff"/>
<rect x="50.4" y="368.8" width="3.8" height="31.8" fill="#fff"/>
<rect x="44.1" y="331" width="4.2" height="2.3" fill="#fff"/>
<rect x="56.2" y="331" width="4.2" height="2.3" fill="#fff"/>
<rect x="44.1" y="335.5" width="4.2" height="2.3" fill="#fff"/>
<rect x="56.2" y="335.5" width="4.2" height="2.3" fill="#fff"/>
<rect x="44.1" y="340" width="4.2" height="2.3" fill="#fff"/>
<rect x="56.2" y="340" width="4.2" height="2.3" fill="#fff"/>
<rect x="44.1" y="345" width="4.2" height="2.3" fill="#fff"/>
<rect x="56.2" y="345" width="4.2" height="2.3" fill="#fff"/>
<rect x="44.1" y="349.5" width="4.2" height="2.3" fill="#fff"/>
<rect x="56.2" y="349.5" width="4.2" height="2.3" fill="#fff"/>
<rect x="44.1" y="354" width="4.2" height="2.3" fill="#fff"/>
<rect x="56.2" y="354" width="4.2" height="2.3" fill="#fff"/>
<rect x="44.1" y="358.5" width="4.2" height="2.3" fill="#fff"/>
<rect x="56.2" y="358.5" width="4.2" height="2.3" fill="#fff"/>
<rect x="44.1" y="363.5" width="4.2" height="2.3" fill="#fff"/>
<rect x="56.2" y="363.5" width="4.2" height="2.3" fill="#fff"/>
<rect x="44.1" y="368" width="4.2" height="2.3" fill="#fff"/>
<rect x="56.2" y="368" width="4.2" height="2.3" fill="#fff"/>
<rect x="44.1" y="372.5" width="4.2" height="2.3" fill="#fff"/>
<rect x="56.2" y="372.5" width="4.2" height="2.3" fill="#fff"/>
<rect x="44.1" y="377" width="4.2" height="2.3" fill="#fff"/>
<rect x="56.2" y="377" width="4.2" height="2.3" fill="#fff"/>
<rect x="44.1" y="382" width="4.2" height="2.3" fill="#fff"/>
<rect x="56.2" y="382" width="4.2" height="2.3" fill="#fff"/>
<rect x="44.1" y="386.5" width="4.2" height="2.3" fill="#fff"/>
<rect x="56.2" y="386.5" width="4.2" height="2.3" fill="#fff"/>
<rect x="44.1" y="391" width="4.2" height="2.3" fill="#fff"/>
<rect x="56.2" y="391" width="4.2" height="2.3" fill="#fff"/>
<rect x="44.1" y="395.5" width="4.2" height="2.3" fill="#fff"/>
<rect x="56.2" y="395.5" width="4.2" height="2.3" fill="#fff"/>
<rect x="44.1" y="400.5" width="4.2" height="2.3" fill="#fff"/>
<rect x="56.2" y="400.5" width="4.2" height="2.3" fill="#fff"/>
<polygon points="51.3,405.7 52.2,403.7 53.1,405.7" fill="#fff" stroke="none" stroke-width="1"/>
<rect x="63.5" y="328" width="19.5" height="77.5" fill="#000"/>
<rect x="71.6" y="332.8" width="3.8" height="30.7" fill="#fff"/>
<rect x="71.6" y="368.8" width="3.8" height="31.8" fill="#fff"/>
<rect x="65.3" y="331" width="4.2" height="2.3" fill="#fff"/>
<rect x="77.4" y="331" width="4.2" height="2.3" fill="#fff"/>
<rect x="65.3" y="335.5" width="4.2" height="2.3" fill="#fff"/>
<rect x="77.4" y="335.5" width="4.2" height="2.3" fill="#fff"/>
<rect x="65.3" y="340" width="4.2" height="2.3" fill="#fff"/>
<rect x="77.4" y="340" width="4.2" height="2.3" fill="#fff"/>
<rect x="65.3" y="345" width="4.2" height="2.3" fill="#fff"/>
<rect x="77.4" y="345" width="4.2" height="2.3" fill="#fff"/>
<rect x="65.3" y="349.5" width="4.2" height="2.3" fill="#fff"/>
<rect x="77.4" y="349.5" width="4.2" height="2.3" fill="#fff"/>
<rect x="65.3" y="354" width="4.2" height="2.3" fill="#fff"/>
<rect x="77.4" y="354" width="4.2" height="2.3" fill="#fff"/>
<rect x="65.3" y="358.5" width="4.2" height="2.3" fill="#fff"/>
<rect x="77.4" y="358.5" width="4.2" height="2.3" fill="#fff"/>
<rect x="65.3" y="363.5" width="4.2" height="2.3" fill="#fff"/>
<rect x="77.4" y="363.5" width="4.2" height="2.3" fill="#fff"/>
<rect x="65.3" y="368" width="4.2" height="2.3" fill="#fff"/>
<rect x="77.4" y="368" width="4.2" height="2.3" fill="#fff"/>
<rect x="65.3" y="372.5" width="4.2" height="2.3" fill="#fff"/>
<rect x="77.4" y="372.5" width="4.2" height="2.3" fill="#fff"/>
<rect x="65.3" y="377" width="4.2" height="2.3" fill="#fff"/>
<rect x="77.4" y="377" width="4.2" height="2.3" fill="#fff"/>
<rect x="65.3" y="382" width="4.2" height="2.3" fill="#fff"/>
<rect x="77.4" y="382" width="4.2" height="2.3" fill="#fff"/>
<rect x="65.3" y="386.5" width="4.2" height="2.3" fill="#fff"/>
<rect x="77.4" y="386.5" width="4.2" height="2.3" fill="#fff"/>
<rect x="65.3" y="391" width="4.2" height="2.3" fill="#fff"/>
<rect x="77.4" y="391" width="4.2" height="2.3" fill="#fff"/>
<rect x="65.3" y="395.5" width="4.2" height="2.3" fill="#fff"/>
<rect x="77.4" y="395.5" width="4.2" height="2.3" fill="#fff"/>
<rect x="65.3" y="400.5" width="4.2" height="2.3" fill="#fff"/>
<rect x="77.4" y="400.5" width="4.2" height="2.3" fill="#fff"/>
<polygon points="72.5,405.7 73.4,403.7 74.3,405.7" fill="#fff" stroke="none" stroke-width="1"/>
<rect x="85.8" y="328" width="19.5" height="77.5" fill="#000"/>
<rect x="93.9" y="332.8" width="3.8" height="30.7" fill="#fff"/>
<rect x="93.9" y="368.8" width="3.8" height="31.8" fill="#fff"/>
<rect x="87.6" y="331" width="4.2" height="2.3" fill="#fff"/>
<rect x="99.7" y="331" width="4.2" height="2.3" fill="#fff"/>
<rect x="87.6" y="335.5" width="4.2" height="2.3" fill="#fff"/>
<rect x="99.7" y="335.5" width="4.2" height="2.3" fill="#fff"/>
<rect x="87.6" y="340" width="4.2" height="2.3" fill="#fff"/>
<rect x="99.7" y="340" width="4.2" height="2.3" fill="#fff"/>
<rect x="87.6" y="345" width="4.2" height="2.3" fill="#fff"/>
<rect x="99.7" y="345" width="4.2" height="2.3" fill="#fff"/>
<rect x="87.6" y="349.5" width="4.2" height="2.3" fill="#fff"/>
<rect x="99.7" y="349.5" width="4.2" height="2.3" fill="#fff"/>
<rect x="87.6" y="354" width="4.2" height="2.3" fill="#fff"/>
<rect x="99.7" y="354" width="4.2" height="2.3" fill="#fff"/>
<rect x="87.6" y="358.5" width="4.2" height="2.3" fill="#fff"/>
<rect x="99.7" y="358.5" width="4.2" height="2.3" fill="#fff"/>
<rect x="87.6" y="363.5" width="4.2" height="2.3" fill="#fff"/>
<rect x="99.7" y="363.5" width="4.2" height="2.3" fill="#fff"/>
<rect x="87.6" y="368" width="4.2" height="2.3" fill="#fff"/>
<rect x="99.7" y="368" width="4.2" height="2.3" fill="#fff"/>
<rect x="87.6" y="372.5" width="4.2" height="2.3" fill="#fff"/>
<rect x="99.7" y="372.5" width="4.2" height="2.3" fill="#fff"/>
<rect x="87.6" y="377" width="4.2" height="2.3" fill="#fff"/>
<rect x="99.7" y="377" width="4.2" height="2.3" fill="#fff"/>
<rect x="87.6" y="382" width="4.2" height="2.3" fill="#fff"/>
<rect x="99.7" y="382" width="4.2" height="2.3" fill="#fff"/>
<rect x="87.6" y="386.5" width="4.2" height="2.3" fill="#fff"/>
<rect x="99.7" y="386.5" width="4.2" height="2.3" fill="#fff"/>
<rect x="87.6" y="391" width="4.2" height="2.3" fill="#fff"/>
<rect x="99.7" y="391" width="4.2" height="2.3" fill="#fff"/>
<rect x="87.6" y="395.5" width="4.2" height="2.3" fill="#fff"/>
<rect x="99.7" y="395.5" width="4.2" height="2.3" fill="#fff"/>
<rect x="87.6" y="400.5" width="4.2" height="2.3" fill="#fff"/>
<rect x="99.7" y="400.5" width="4.2" height="2.3" fill="#fff"/>
<polygon points="94.8,405.7 95.7,403.7 96.6,405.7" fill="#fff" stroke="none" stroke-width="1"/>
<rect x="107" y="328" width="19.5" height="77.5" fill="#000"/>
<rect x="115.1" y="332.8" width="3.8" height="30.7" fill="#fff"/>
<rect x="115.1" y="368.8" width="3.8" height="31.8" fill="#fff"/>
<rect x="108.8" y="331" width="4.2" height="2.3" fill="#fff"/>
<rect x="120.9" y="331" width="4.2" height="2.3" fill="#fff"/>
<rect x="108.8" y="335.5" width="4.2" height="2.3" fill="#fff"/>
<rect x="120.9" y="335.5" width="4.2" height="2.3" fill="#fff"/>
<rect x="108.8" y="340" width="4.2" height="2.3" fill="#fff"/>
<rect x="120.9" y="340" width="4.2" height="2.3" fill="#fff"/>
<rect x="108.8" y="345" width="4.2" height="2.3" fill="#fff"/>
<rect x="120.9" y="345" width="4.2" height="2.3" fill="#fff"/>
<rect x="108.8" y="349.5" width="4.2" height="2.3" fill="#fff"/>
<rect x="120.9" y="349.5" width="4.2" height="2.3" fill="#fff"/>
<rect x="108.8" y="354" width="4.2" height="2.3" fill="#fff"/>
<rect x="120.9" y="354" width="4.2" height="2.3" fill="#fff"/>
<rect x="108.8" y="358.5" width="4.2" height="2.3" fill="#fff"/>
<rect x="120.9" y="358.5" width="4.2" height="2.3" fill="#fff"/>
<rect x="108.8" y="363.5" width="4.2" height="2.3" fill="#fff"/>
<rect x="120.9" y="363.5" width="4.2" height="2.3" fill="#fff"/>
<rect x="108.8" y="368" width="4.2" height="2.3" fill="#fff"/>
<rect x="120.9" y="368" width="4.2" height="2.3" fill="#fff"/>
<rect x="108.8" y="372.5" width="4.2" height="2.3" fill="#fff"/>
<rect x="120.9" y="372.5" width="4.2" height="2.3" fill="#fff"/>
<rect x="108.8" y="377" width="4.2" height="2.3" fill="#fff"/>
<rect x="120.9" y="377" width="4.2" height="2.3" fill="#fff"/>
<rect x="108.8" y="382" width="4.2" height="2.3" fill="#fff"/>
<rect x="120.9" y="382" width="4.2" height="2.3" fill="#fff"/>
<rect x="108.8" y="386.5" width="4.2" height="2.3" fill="#fff"/>
<rect x="120.9" y="386.5" width="4.2" height="2.3" fill="#fff"/>
<rect x="108.8" y="391" width="4.2" height="2.3" fill="#fff"/>
<rect x="120.9" y="391" width="4.2" height="2.3" fill="#fff"/>
<rect x="108.8" y="395.5" width="4.2" height="2.3" fill="#fff"/>
<rect x="120.9" y="395.5" width="4.2" height="2.3" fill="#fff"/>
<rect x="108.8" y="400.5" width="4.2" height="2.3" fill="#fff"/>
<rect x="120.9" y="400.5" width="4.2" height="2.3" fill="#fff"/>
<polygon points="116,405.7 116.9,403.7 117.8,405.7" fill="#fff" stroke="none" stroke-width="1"/>
<rect x="129.3" y="328" width="19.5" height="77.5" fill="#000"/>
<rect x="137.4" y="332.8" width="3.8" height="30.7" fill="#fff"/>
<rect x="137.4" y="368.8" width="3.8" height="31.8" fill="#fff"/>
<rect x="131.1" y="331" width="4.2" height="2.3" fill="#fff"/>
<rect x="143.2" y="331" width="4.2" height="2.3" fill="#fff"/>
<rect x="131.1" y="335.5" width="4.2" height="2.3" fill="#fff"/>
<rect x="143.2" y="335.5" width="4.2" height="2.3" fill="#fff"/>
<rect x="131.1" y="340" width="4.2" height="2.3" fill="#fff"/>
<rect x="143.2" y="340" width="4.2" height="2.3" fill="#fff"/>
<rect x="131.1" y="345" width="4.2" height="2.3" fill="#fff"/>
<rect x="143.2" y="345" width="4.2" height="2.3" fill="#fff"/>
<rect x="131.1" y="349.5" width="4.2" height="2.3" fill="#fff"/>
<rect x="143.2" y="349.5" width="4.2" height="2.3" fill="#fff"/>
<rect x="131.1" y="354" width="4.2" height="2.3" fill="#fff"/>
<rect x="143.2" y="354" width="4.2" height="2.3" fill="#fff"/>
<rect x="131.1" y="358.5" width="4.2" height="2.3" fill="#fff"/>
<rect x="143.2" y="358.5" width="4.2" height="2.3" fill="#fff"/>
<rect x="131.1" y="363.5" width="4.2" height="2.3" fill="#fff"/>
<rect x="143.2" y="363.5" width="4.2" height="2.3" fill="#fff"/>
<rect x="131.1" y="368" width="4.2" height="2.3" fill="#fff"/>
<rect x="143.2" y="368" width="4.2" height="2.3" fill="#fff"/>
<rect x="131.1" y="372.5" width="4.2" height="2.3" fill="#fff"/>
<rect x="143.2" y="372.5" width="4.2" height="2.3" fill="#fff"/>
<rect x="131.1" y="377" width="4.2" height="2.3" fill="#fff"/>
<rect x="143.2" y="377" width="4.2" height="2.3" fill="#fff"/>
<rect x="131.1" y="382" width="4.2" height="2.3" fill="#fff"/>
<rect x="143.2" y="382" width="4.2" height="2.3" fill="#fff"/>
<rect x="131.1" y="386.5" width="4.2" height="2.3" fill="#fff"/>
<rect x="143.2" y="386.5" width="4.2" height="2.3" fill="#fff"/>
<rect x="131.1" y="391" width="4.2" height="2.3" fill="#fff"/>
<rect x="143.2" y="391" width="4.2" height="2.3" fill="#fff"/>
<rect x="131.1" y="395.5" width="4.2" height="2.3" fill="#fff"/>
<rect x="143.2" y="395.5" width="4.2" height="2.3" fill="#fff"/>
<rect x="131.1" y="400.5" width="4.2" height="2.3" fill="#fff"/>
<rect x="143.2" y="400.5" width="4.2" height="2.3" fill="#fff"/>
<polygon points="138.3,405.7 139.2,403.7 140.1,405.7" fill="#fff" stroke="none" stroke-width="1"/>
<rect x="150.5" y="328" width="19.5" height="77.5" fill="#000"/>
<rect x="158.6" y="332.8" width="3.8" height="30.7" fill="#fff"/>
<rect x="158.6" y="368.8" width="3.8" height="31.8" fill="#fff"/>
<rect x="152.3" y="331" width="4.2" height="2.3" fill="#fff"/>
<rect x="164.4" y="331" width="4.2" height="2.3" fill="#fff"/>
<rect x="152.3" y="335.5" width="4.2" height="2.3" fill="#fff"/>
<rect x="164.4" y="335.5" width="4.2" height="2.3" fill="#fff"/>
<rect x="152.3" y="340" width="4.2" height="2.3" fill="#fff"/>
<rect x="164.4" y="340" width="4.2" height="2.3" fill="#fff"/>
<rect x="152.3" y="345" width="4.2" height="2.3" fill="#fff"/>
<rect x="164.4" y="345" width="4.2" height="2.3" fill="#fff"/>
<rect x="152.3" y="349.5" width="4.2" height="2.3" fill="#fff"/>
<rect x="164.4" y="349.5" width="4.2" height="2.3" fill="#fff"/>
<rect x="152.3" y="354" width="4.2" height="2.3" fill="#fff"/>
<rect x="164.4" y="354" width="4.2" height="2.3" fill="#fff"/>
<rect x="152.3" y="358.5" width="4.2" height="2.3" fill="#fff"/>
<rect x="164.4" y="358.5" width="4.2" height="2.3" fill="#fff"/>
<rect x="152.3" y="363.5" width="4.2" height="2.3" fill="#fff"/>
<rect x="164.4" y="363.5" width="4.2" height="2.3" fill="#fff"/>
<rect x="152.3" y="368" width="4.2" height="2.3" fill="#fff"/>
<rect x="164.4" y="368" width="4.2" height="2.3" fill="#fff"/>
<rect x="152.3" y="372.5" width="4.2" height="2.3" fill="#fff"/>
<rect x="164.4" y="372.5" width="4.2" height="2.3" fill="#fff"/>
<rect x="152.3" y="377" width="4.2" height="2.3" fill="#fff"/>
<rect x="164.4" y="377" width="4.2" height="2.3" fill="#fff"/>
<rect x="152.3" y="382" width="4.2" height="2.3" fill="#fff"/>
<rect x="164.4" y="382" width="4.2" height="2.3" fill="#fff"/>
<rect x="152.3" y="386.5" width="4.2" height="2.3" fill="#fff"/>
<rect x="164.4" y="386.5" width="4.2" height="2.3" fill="#fff"/>
<rect x="152.3" y="391" width="4.2" height="2.3" fill="#fff"/>
<rect x="164.4" y="391" width="4.2" height="2.3" fill="#fff"/>
<rect x="152.3" y="395.5" width="4.2" height="2.3" fill="#fff"/>
<rect x="164.4" y="395.5" width="4.2" height="2.3" fill="#fff"/>
<rect x="152.3" y="400.5" width="4.2" height="2.3" fill="#fff"/>
<rect x="164.4" y="400.5" width="4.2" height="2.3" fill="#fff"/>
<polygon points="159.5,405.7 160.4,403.7 161.3,405.7" fill="#fff" stroke="none" stroke-width="1"/>
<rect x="172.8" y="328" width="19.5" height="77.5" fill="#000"/>
<rect x="180.9" y="332.8" width="3.8" height="30.7" fill="#fff"/>
<rect x="180.9" y="368.8" width="3.8" height="31.8" fill="#fff"/>
<rect x="174.6" y="331" width="4.2" height="2.3" fill="#fff"/>
<rect x="186.7" y="331" width="4.2" height="2.3" fill="#fff"/>
<rect x="174.6" y="335.5" width="4.2" height="2.3" fill="#fff"/>
<rect x="186.7" y="335.5" width="4.2" height="2.3" fill="#fff"/>
<rect x="174.6" y="340" width="4.2" height="2.3" fill="#fff"/>
<rect x="186.7" y="340" width="4.2" height="2.3" fill="#fff"/>
<rect x="174.6" y="345" width="4.2" height="2.3" fill="#fff"/>
<rect x="186.7" y="345" width="4.2" height="2.3" fill="#fff"/>
<rect x="174.6" y="349.5" width="4.2" height="2.3" fill="#fff"/>
<rect x="186.7" y="349.5" width="4.2" height="2.3" fill="#fff"/>
<rect x="174.6" y="354" width="4.2" height="2.3" fill="#fff"/>
<rect x="186.7" y="354" width="4.2" height="2.3" fill="#fff"/>
<rect x="174.6" y="358.5" width="4.2" height="2.3" fill="#fff"/>
<rect x="186.7" y="358.5" width="4.2" height="2.3" fill="#fff"/>
<rect x="174.6" y="363.5" width="4.2" height="2.3" fill="#fff"/>
<rect x="186.7" y="363.5" width="4.2" height="2.3" fill="#fff"/>
<rect x="174.6" y="368" width="4.2" height="2.3" fill="#fff"/>
<rect x="186.7" y="368" width="4.2" height="2.3" fill="#fff"/>
<rect x="174.6" y="372.5" width="4.2" height="2.3" fill="#fff"/>
<rect x="186.7" y="372.5" width="4.2" height="2.3" fill="#fff"/>
<rect x="174.6" y="377" width="4.2" height="2.3" fill="#fff"/>
<rect x="186.7" y="377" width="4.2" height="2.3" fill="#fff"/>
<rect x="174.6" y="382" width="4.2" height="2.3" fill="#fff"/>
<rect x="186.7" y="382" width="4.2" height="2.3" fill="#fff"/>
<rect x="174.6" y="386.5" width="4.2" height="2.3" fill="#fff"/>
<rect x="186.7" y="386.5" width="4.2" height="2.3" fill="#fff"/>
<rect x="174.6" y="391" width="4.2" height="2.3" fill="#fff"/>
<rect x="186.7" y="391" width="4.2" height="2.3" fill="#fff"/>
<rect x="174.6" y="395.5" width="4.2" height="2.3" fill="#fff"/>
<rect x="186.7" y="395.5" width="4.2" height="2.3" fill="#fff"/>
<rect x="174.6" y="400.5" width="4.2" height="2.3" fill="#fff"/>
<rect x="186.7" y="400.5" width="4.2" height="2.3" fill="#fff"/>
<polygon points="181.8,405.7 182.7,403.7 183.6,405.7" fill="#fff" stroke="none" stroke-width="1"/>
<rect x="194" y="328" width="19.5" height="77.5" fill="#000"/>
<rect x="202.1" y="332.8" width="3.8" height="30.7" fill="#fff"/>
<rect x="202.1" y="368.8" width="3.8" height="31.8" fill="#fff"/>
<rect x="195.8" y="331" width="4.2" height="2.3" fill="#fff"/>
<rect x="207.9" y="331" width="4.2" height="2.3" fill="#fff"/>
<rect x="195.8" y="335.5" width="4.2" height="2.3" fill="#fff"/>
<rect x="207.9" y="335.5" width="4.2" height="2.3" fill="#fff"/>
<rect x="195.8" y="340" width="4.2" height="2.3" fill="#fff"/>
<rect x="207.9" y="340" width="4.2" height="2.3" fill="#fff"/>
<rect x="195.8" y="345" width="4.2" height="2.3" fill="#fff"/>
<rect x="207.9" y="345" width="4.2" height="2.3" fill="#fff"/>
<rect x="195.8" y="349.5" width="4.2" height="2.3" fill="#fff"/>
<rect x="207.9" y="349.5" width="4.2" height="2.3" fill="#fff"/>
<rect x="195.8" y="354" width="4.2" height="2.3" fill="#fff"/>
<rect x="207.9" y="354" width="4.2" height="2.3" fill="#fff"/>
<rect x="195.8" y="358.5" width="4.2" height="2.3" fill="#fff"/>
<rect x="207.9" y="358.5" width="4.2" height="2.3" fill="#fff"/>
<rect x="195.8" y="363.5" width="4.2" height="2.3" fill="#fff"/>
<rect x="207.9" y="363.5" width="4.2" height="2.3" fill="#fff"/>
<rect x="195.8" y="368" width="4.2" height="2.3" fill="#fff"/>
<rect x="207.9" y="368" width="4.2" height="2.3" fill="#fff"/>
<rect x="195.8" y="372.5" width="4.2" height="2.3" fill="#fff"/>
<rect x="207.9" y="372.5" width="4.2" height="2.3" fill="#fff"/>
<rect x="195.8" y="377" width="4.2" height="2.3" fill="#fff"/>
<rect x="207.9" y="377" width="4.2" height="2.3" fill="#fff"/>
<rect x="195.8" y="382" width="4.2" height="2.3" fill="#fff"/>
<rect x="207.9" y="382" width="4.2" height="2.3" fill="#fff"/>
<rect x="195.8" y="386.5" width="4.2" height="2.3" fill="#fff"/>
<rect x="207.9" y="386.5" width="4.2" height="2.3" fill="#fff"/>
<rect x="195.8" y="391" width="4.2" height="2.3" fill="#fff"/>
<rect x="207.9" y="391" width="4.2" height="2.3" fill="#fff"/>
<rect x="195.8" y="395.5" width="4.2" height="2.3" fill="#fff"/>
<rect x="207.9" y="395.5" width="4.2" height="2.3" fill="#fff"/>
<rect x="195.8" y="400.5" width="4.2" height="2.3" fill="#fff"/>
<rect x="207.9" y="400.5" width="4.2" height="2.3" fill="#fff"/>
<polygon points="203,405.7 203.9,403.7 204.8,405.7" fill="#fff" stroke="none" stroke-width="1"/>
<rect x="217.1" y="328" width="19.5" height="78.9" fill="#000"/>
<rect x="225.2" y="333.8" width="3.8" height="29.7" fill="#fff"/>
<rect x="225.2" y="369.4" width="3.8" height="32.4" fill="#fff"/>
<rect x="218.9" y="331" width="4.2" height="2.3" fill="#fff"/>
<rect x="231" y="331" width="4.2" height="2.3" fill="#fff"/>
<rect x="218.9" y="335.5" width="4.2" height="2.3" fill="#fff"/>
<rect x="231" y="335.5" width="4.2" height="2.3" fill="#fff"/>
<rect x="218.9" y="340.5" width="4.2" height="2.3" fill="#fff"/>
<rect x="231" y="340.5" width="4.2" height="2.3" fill="#fff"/>
<rect x="218.9" y="345" width="4.2" height="2.3" fill="#fff"/>
<rect x="231" y="345" width="4.2" height="2.3" fill="#fff"/>
<rect x="218.9" y="350" width="4.2" height="2.3" fill="#fff"/>
<rect x="231" y="350" width="4.2" height="2.3" fill="#fff"/>
<rect x="218.9" y="354.5" width="4.2" height="2.3" fill="#fff"/>
<rect x="231" y="354.5" width="4.2" height="2.3" fill="#fff"/>
<rect x="218.9" y="359" width="4.2" height="2.3" fill="#fff"/>
<rect x="231" y="359" width="4.2" height="2.3" fill="#fff"/>
<rect x="218.9" y="364" width="4.2" height="2.3" fill="#fff"/>
<rect x="231" y="364" width="4.2" height="2.3" fill="#fff"/>
<rect x="218.9" y="368.5" width="4.2" height="2.3" fill="#fff"/>
<rect x="231" y="368.5" width="4.2" height="2.3" fill="#fff"/>
<rect x="218.9" y="373.5" width="4.2" height="2.3" fill="#fff"/>
<rect x="231" y="373.5" width="4.2" height="2.3" fill="#fff"/>
<rect x="218.9" y="378" width="4.2" height="2.3" fill="#fff"/>
<rect x="231" y="378" width="4.2" height="2.3" fill="#fff"/>
<rect x="218.9" y="383" width="4.2" height="2.3" fill="#fff"/>
<rect x="231" y="383" width="4.2" height="2.3" fill="#fff"/>
<rect x="218.9" y="387.5" width="4.2" height="2.3" fill="#fff"/>
<rect x="231" y="387.5" width="4.2" height="2.3" fill="#fff"/>
<rect x="218.9" y="392.5" width="4.2" height="2.3" fill="#fff"/>
<rect x="231" y="392.5" width="4.2" height="2.3" fill="#fff"/>
<rect x="218.9" y="397" width="4.2" height="2.3" fill="#fff"/>
<rect x="231" y="397" width="4.2" height="2.3" fill="#fff"/>
<rect x="218.9" y="401.5" width="4.2" height="2.3" fill="#fff"/>
<rect x="231" y="401.5" width="4.2" height="2.3" fill="#fff"/>
<polygon points="226.1,407.1 227,405.1 227.9,407.1" fill="#fff" stroke="none" stroke-width="1"/>
<rect x="105.4" y="360.7" width="45.6" height="13" fill="#000"/>
<rect x="106.4" y="361.7" width="43.2" height="10.8" fill="#fff"/>
<text x="128" y="371" font-size="11" fill="#000" stroke="#000" text-anchor="middle" textLength="39.5" lengthAdjust="spacingAndGlyphs">BANK 0</text>
<rect x="215.3" y="360.3" width="24.2" height="13.6" rx="2.5" fill="#000" shape-rendering="auto"/>
<rect x="216.5" y="361.5" width="21" height="10.4" rx="1" fill="#fff" shape-rendering="auto"/>
<text x="227" y="370.534" font-size="10.8" stroke="#000" text-anchor="middle" textLength="21.5" lengthAdjust="spacingAndGlyphs">TAG</text>
<polygon points="271.818,363.197 270.3,364.5 267,371.5 275,368.8 276.518,367.497" fill="#fff" stroke="#000" stroke-width="1.6" shape-rendering="auto"/>
<line x1="267" y1="371.5" x2="262.8" y2="375.5" stroke="#000" stroke-width="1.6" shape-rendering="auto"/>
<line x1="267.607" y1="370.979" x2="264.06" y2="374.3" stroke="#000" stroke-width="3.4" shape-rendering="auto"/>
<rect x="268.6" y="356.3" width="25.2" height="14.1" rx="2.5" fill="#000" shape-rendering="auto"/>
<rect x="270.5" y="358.2" width="21.2" height="10.1" rx="1" fill="#fff" shape-rendering="auto"/>
<polygon points="273.694,362.895 271.038,365.175 268.518,370.197 274.262,368.125 276.918,365.845" fill="#fff" shape-rendering="auto"/>
<text x="281.1" y="366.906" font-size="10.3" stroke="#000" text-anchor="middle" textLength="18" lengthAdjust="spacingAndGlyphs">JP3</text>
<polygon points="277.2,377.8 275.2,377.8 269.5,381.5 275.2,385.2 277.2,385.2" fill="#fff" stroke="#000" stroke-width="1.6" shape-rendering="auto"/>
<line x1="269.5" y1="381.5" x2="263" y2="381.5" stroke="#000" stroke-width="1.6" shape-rendering="auto"/>
<line x1="270.3" y1="381.5" x2="264.95" y2="381.5" stroke="#000" stroke-width="3.4" shape-rendering="auto"/>
<rect x="273.4" y="374.2" width="28.7" height="14.8" rx="2.5" fill="#000" shape-rendering="auto"/>
<rect x="275.3" y="376.1" width="24.7" height="10.8" rx="1" fill="#fff" shape-rendering="auto"/>
<polygon points="278.7,378.8 275.2,378.8 271.5,381.5 275.2,384.2 278.7,384.2" fill="#fff" shape-rendering="auto"/>
<text x="287.65" y="385.156" font-size="10.3" stroke="#000" text-anchor="middle" textLength="18" lengthAdjust="spacingAndGlyphs">JP2</text>
<rect x="247.5" y="374.2" width="15.5" height="9.2" fill="#000"/>
<rect x="251.3" y="375.5" width="1" height="6.6" fill="#fff"/>
<rect x="255" y="375.5" width="1" height="6.6" fill="#fff"/>
<rect x="257.8" y="375.7" width="2.8" height="1.8" fill="#fff"/>
<rect x="257.8" y="379.3" width="2.8" height="2" fill="#fff"/>
<rect x="259" y="375.5" width="1" height="6.6" fill="#fff"/>
<polygon points="334,131.3 336,131.3 341.5,135 336,138.7 334,138.7" fill="#fff" stroke="#000" stroke-width="1.6" shape-rendering="auto"/>
<line x1="341.5" y1="135" x2="349.5" y2="135" stroke="#000" stroke-width="1.6" shape-rendering="auto"/>
<line x1="340.7" y1="135" x2="347.1" y2="135" stroke="#000" stroke-width="3.4" shape-rendering="auto"/>
<rect x="309.2" y="128.2" width="28.8" height="14.3" rx="2.5" fill="#000" shape-rendering="auto"/>
<rect x="311.1" y="130.1" width="24.8" height="10.3" rx="1" fill="#fff" shape-rendering="auto"/>
<polygon points="332.5,132.3 336,132.3 339.5,135 336,137.7 332.5,137.7" fill="#fff" shape-rendering="auto"/>
<text x="323.5" y="138.906" font-size="10.3" stroke="#000" text-anchor="middle" textLength="16.4" lengthAdjust="spacingAndGlyphs">J13</text>
<polygon points="334,147.982 336,148 341.5,151.8 336,155.5 334,155.482" fill="#fff" stroke="#000" stroke-width="1.6" shape-rendering="auto"/>
<line x1="341.5" y1="151.8" x2="349.5" y2="151.8" stroke="#000" stroke-width="1.6" shape-rendering="auto"/>
<line x1="340.7" y1="151.793" x2="347.1" y2="151.8" stroke="#000" stroke-width="3.4" shape-rendering="auto"/>
<rect x="309.2" y="144.1" width="28.8" height="15.7" rx="2.5" fill="#000" shape-rendering="auto"/>
<rect x="311.1" y="146" width="24.8" height="11.7" rx="1" fill="#fff" shape-rendering="auto"/>
<polygon points="332.5,148.968 336,149 339.5,151.782 336,154.5 332.5,154.468" fill="#fff" shape-rendering="auto"/>
<text x="323.5" y="155.507" font-size="10.3" stroke="#000" text-anchor="middle" textLength="16.4" lengthAdjust="spacingAndGlyphs">J12</text>
<rect x="348.6" y="129.6" width="95.7" height="10.4" fill="#000"/>
<rect x="351" y="131.1" width="1" height="7.4" fill="#fff"/>
<rect x="355.5" y="131.1" width="1" height="7.4" fill="#fff"/>
<rect x="360" y="131.1" width="1" height="7.4" fill="#fff"/>
<rect x="364.5" y="131.1" width="1" height="7.4" fill="#fff"/>
<rect x="369" y="131.1" width="1" height="7.4" fill="#fff"/>
<rect x="373.5" y="131.1" width="1" height="7.4" fill="#fff"/>
<rect x="376.4" y="131.1" width="2.6" height="7.4" fill="#fff"/>
<rect x="382.5" y="131.1" width="1" height="7.4" fill="#fff"/>
<rect x="387" y="131.1" width="1" height="7.4" fill="#fff"/>
<rect x="396" y="131.1" width="1" height="7.4" fill="#fff"/>
<rect x="400.5" y="131.1" width="1" height="7.4" fill="#fff"/>
<rect x="405.5" y="131.1" width="1" height="7.4" fill="#fff"/>
<rect x="410" y="131.1" width="1" height="7.4" fill="#fff"/>
<rect x="414.5" y="131.1" width="1" height="7.4" fill="#fff"/>
<rect x="419" y="131.1" width="1" height="7.4" fill="#fff"/>
<rect x="423.5" y="131.1" width="1" height="7.4" fill="#fff"/>
<rect x="428" y="131.1" width="1" height="7.4" fill="#fff"/>
<rect x="432.5" y="131.1" width="1" height="7.4" fill="#fff"/>
<rect x="437" y="131.1" width="1" height="7.4" fill="#fff"/>
<rect x="350.1" y="134.5" width="92.4" height="1" fill="#fff"/>
<rect x="438.8" y="131" width="3.8" height="4" fill="#000"/>
<rect x="439.8" y="132" width="1.8" height="2" fill="#fff"/>
<rect x="348.6" y="146.1" width="95.7" height="10.5" fill="#000"/>
<rect x="351" y="147.5" width="1" height="8.1" fill="#fff"/>
<rect x="355.5" y="147.5" width="1" height="8.1" fill="#fff"/>
<rect x="360" y="147.5" width="1" height="8.1" fill="#fff"/>
<rect x="364.5" y="147.5" width="1" height="8.1" fill="#fff"/>
<rect x="369" y="147.5" width="1" height="8.1" fill="#fff"/>
<rect x="373.5" y="147.5" width="1" height="8.1" fill="#fff"/>
<rect x="376.4" y="147.5" width="2.6" height="8.1" fill="#fff"/>
<rect x="382.5" y="147.5" width="1" height="8.1" fill="#fff"/>
<rect x="387" y="147.5" width="1" height="8.1" fill="#fff"/>
<rect x="396" y="147.5" width="1" height="8.1" fill="#fff"/>
<rect x="400.5" y="147.5" width="1" height="8.1" fill="#fff"/>
<rect x="405.5" y="147.5" width="1" height="8.1" fill="#fff"/>
<rect x="410" y="147.5" width="1" height="8.1" fill="#fff"/>
<rect x="414.5" y="147.5" width="1" height="8.1" fill="#fff"/>
<rect x="419" y="147.5" width="1" height="8.1" fill="#fff"/>
<rect x="423.5" y="147.5" width="1" height="8.1" fill="#fff"/>
<rect x="428" y="147.5" width="1" height="8.1" fill="#fff"/>
<rect x="432.5" y="147.5" width="1" height="8.1" fill="#fff"/>
<rect x="437" y="147.5" width="1" height="8.1" fill="#fff"/>
<rect x="350.1" y="150.5" width="92.4" height="1" fill="#fff"/>
<rect x="438.8" y="148" width="3.8" height="3.5" fill="#000"/>
<rect x="439.8" y="149" width="1.8" height="1.5" fill="#fff"/>
<rect x="350.3" y="147.5" width="87" height="1" fill="#fff"/>
<rect x="472.8" y="124" width="81.2" height="10" fill="#000"/>
<rect x="474.5" y="125.5" width="2" height="7" fill="#fff"/>
<rect x="478.5" y="125.5" width="1.5" height="7" fill="#fff"/>
<rect x="483.5" y="125.5" width="1" height="7" fill="#fff"/>
<rect x="488" y="125.5" width="1" height="7" fill="#fff"/>
<rect x="497.5" y="125.5" width="1" height="7" fill="#fff"/>
<rect x="502" y="125.5" width="1" height="7" fill="#fff"/>
<rect x="506.5" y="125.5" width="1" height="7" fill="#fff"/>
<rect x="511" y="125.5" width="1" height="7" fill="#fff"/>
<rect x="515.5" y="125.5" width="1" height="7" fill="#fff"/>
<rect x="520" y="125.5" width="1" height="7" fill="#fff"/>
<rect x="524.5" y="125.5" width="1" height="7" fill="#fff"/>
<rect x="530.5" y="125.5" width="1" height="7" fill="#fff"/>
<rect x="539.5" y="125.5" width="1" height="7" fill="#fff"/>
<rect x="544" y="125.5" width="1" height="7" fill="#fff"/>
<rect x="548" y="125.5" width="2" height="7" fill="#fff"/>
<rect x="474.3" y="129" width="74.7" height="1" fill="#fff"/>
<rect x="551.5" y="127" width="1" height="2" fill="#fff"/>
<rect x="481.9" y="141" width="63.1" height="10" fill="#000"/>
<rect x="483" y="142.5" width="1.8" height="7" fill="#fff"/>
<rect x="488" y="142.5" width="1" height="7" fill="#fff"/>
<rect x="492.5" y="142.5" width="1" height="7" fill="#fff"/>
<rect x="501.5" y="142.5" width="1" height="7" fill="#fff"/>
<rect x="506" y="142.5" width="1" height="7" fill="#fff"/>
<rect x="511" y="142.5" width="1" height="7" fill="#fff"/>
<rect x="515.5" y="142.5" width="1" height="7" fill="#fff"/>
<rect x="520" y="142.5" width="1" height="7" fill="#fff"/>
<rect x="529.5" y="142.5" width="1" height="7" fill="#fff"/>
<rect x="534" y="142.5" width="1" height="7" fill="#fff"/>
<rect x="538.5" y="142.5" width="1" height="7" fill="#fff"/>
<rect x="543" y="142.5" width="1" height="7" fill="#fff"/>
<rect x="483.4" y="145.5" width="60.6" height="1" fill="#fff"/>
<rect x="539.5" y="143.3" width="2.5" height="1" fill="#fff"/>
<polygon points="507.488,107.5 507.5,109.5 510.8,118 514,109.5 513.988,107.5" fill="#fff" stroke="#000" stroke-width="1.6" shape-rendering="auto"/>
<line x1="510.8" y1="118" x2="510.8" y2="124" stroke="#000" stroke-width="1.6" shape-rendering="auto"/>
<line x1="510.795" y1="117.2" x2="510.8" y2="122.2" stroke="#000" stroke-width="3.4" shape-rendering="auto"/>
<rect x="498.9" y="98" width="25.2" height="12.8" fill="#000"/>
<rect x="499.9" y="99" width="23.2" height="10.8" fill="#fff"/>
<polygon points="508.479,106 508.5,109.5 510.788,116 513,109.5 512.979,106" fill="#fff" shape-rendering="auto"/>
<text x="510.2" y="107.6" font-size="10.6" stroke="#000" text-anchor="middle" textLength="14.5" lengthAdjust="spacingAndGlyphs">J11</text>
<rect x="432" y="167.3" width="140.5" height="14.6" fill="#000"/>
<rect x="437.6" y="172.3" width="26.3" height="4.5" fill="#fff"/>
<rect x="471.8" y="172.3" width="19" height="4.5" fill="#fff"/>
<rect x="516.2" y="172.3" width="51" height="4.5" fill="#fff"/>
<rect x="491.1" y="169.3" width="23.1" height="10.4" rx="0.8" fill="#fff" shape-rendering="auto"/>
<text x="502.5" y="177.9" font-size="10.4" fill="#000" stroke="#000" text-anchor="middle" textLength="20.4" lengthAdjust="spacingAndGlyphs">PC3</text>
<rect x="432" y="202.3" width="140.5" height="15.5" fill="#000"/>
<rect x="437.6" y="207.3" width="26.3" height="4.5" fill="#fff"/>
<rect x="471.8" y="207.3" width="19" height="4.5" fill="#fff"/>
<rect x="516.2" y="207.3" width="51" height="4.5" fill="#fff"/>
<rect x="491.1" y="204.3" width="23.1" height="10.4" rx="0.8" fill="#fff" shape-rendering="auto"/>
<text x="502.5" y="212.9" font-size="10.4" fill="#000" stroke="#000" text-anchor="middle" textLength="20.4" lengthAdjust="spacingAndGlyphs">PC2</text>
<rect x="432" y="238.2" width="140.5" height="14.6" fill="#000"/>
<rect x="437.6" y="243.2" width="26.3" height="4.5" fill="#fff"/>
<rect x="471.8" y="243.2" width="19" height="4.5" fill="#fff"/>
<rect x="516.2" y="243.2" width="51" height="4.5" fill="#fff"/>
<rect x="491.1" y="240.2" width="23.1" height="10.4" rx="0.8" fill="#fff" shape-rendering="auto"/>
<text x="502.5" y="248.8" font-size="10.4" fill="#000" stroke="#000" text-anchor="middle" textLength="20.4" lengthAdjust="spacingAndGlyphs">PC1</text>
<polygon points="529.484,167.8 529.5,165.8 532.8,159.5 536,165.8 535.984,167.8" fill="#fff" stroke="#000" stroke-width="1.6" shape-rendering="auto"/>
<line x1="532.8" y1="159.5" x2="532.8" y2="151" stroke="#000" stroke-width="1.6" shape-rendering="auto"/>
<line x1="532.794" y1="160.3" x2="532.8" y2="153.55" stroke="#000" stroke-width="3.4" shape-rendering="auto"/>
<rect x="518.1" y="164" width="27.9" height="14.8" rx="2.5" fill="#000" shape-rendering="auto"/>
<rect x="520" y="165.9" width="23.9" height="10.8" rx="1" fill="#fff" shape-rendering="auto"/>
<polygon points="530.472,169.3 530.5,165.8 532.784,161.5 535,165.8 534.972,169.3" fill="#fff" shape-rendering="auto"/>
<text x="531.95" y="174.7" font-size="10.3" stroke="#000" text-anchor="middle" textLength="18" lengthAdjust="spacingAndGlyphs">J10</text>
<polygon points="593.111,125.003 593,127 596,131.5 599.5,127 599.611,125.003" fill="#fff" stroke="#000" stroke-width="1.6" shape-rendering="auto"/>
<line x1="596" y1="131.5" x2="596" y2="141" stroke="#000" stroke-width="1.6" shape-rendering="auto"/>
<line x1="596.044" y1="130.701" x2="596" y2="138.15" stroke="#000" stroke-width="3.4" shape-rendering="auto"/>
<rect x="586.1" y="114" width="20.9" height="14.9" rx="2.5" fill="#000" shape-rendering="auto"/>
<rect x="588" y="115.9" width="16.9" height="10.9" rx="1" fill="#fff" shape-rendering="auto"/>
<polygon points="594.194,123.505 594,127 596.111,129.503 598.5,127 598.694,123.505" fill="#fff" shape-rendering="auto"/>
<text x="596.45" y="125.007" font-size="10.3" stroke="#000" text-anchor="middle" textLength="10.6" lengthAdjust="spacingAndGlyphs">J9</text>
<rect x="584" y="141.3" width="24.8" height="10.7" fill="#000"/>
<rect x="591" y="142.8" width="1" height="7.7" fill="#fff"/>
<rect x="595.5" y="142.8" width="1" height="7.7" fill="#fff"/>
<rect x="600" y="142.8" width="1" height="7.7" fill="#fff"/>
<rect x="604.5" y="142.8" width="1" height="7.7" fill="#fff"/>
<rect x="587" y="146" width="20" height="1" fill="#fff"/>
<rect x="585.3" y="147" width="3.7" height="4" fill="#000"/>
<rect x="586.3" y="148" width="1.7" height="2" fill="#fff"/>
<rect x="613.2" y="141.3" width="24.4" height="10.7" fill="#000"/>
<rect x="614.4" y="142.8" width="2.6" height="7.7" fill="#fff"/>
<rect x="620.5" y="142.8" width="1" height="7.7" fill="#fff"/>
<rect x="625" y="142.8" width="1" height="7.7" fill="#fff"/>
<rect x="629.5" y="142.8" width="1" height="7.7" fill="#fff"/>
<rect x="634" y="142.8" width="1" height="7.7" fill="#fff"/>
<rect x="615" y="146" width="21" height="1" fill="#fff"/>
<rect x="614" y="147" width="3.5" height="4" fill="#000"/>
<rect x="615" y="148" width="1.5" height="2" fill="#fff"/>
<polygon points="623.98,167.5 624,165.5 627.3,160.5 630.5,165.5 630.48,167.5" fill="#fff" stroke="#000" stroke-width="1.6" shape-rendering="auto"/>
<line x1="627.3" y1="160.5" x2="627.3" y2="152" stroke="#000" stroke-width="1.6" shape-rendering="auto"/>
<line x1="627.292" y1="161.3" x2="627.3" y2="154.55" stroke="#000" stroke-width="3.4" shape-rendering="auto"/>
<rect x="616.2" y="163.2" width="20.9" height="15.8" rx="2.5" fill="#000" shape-rendering="auto"/>
<rect x="618.1" y="165.1" width="16.9" height="11.8" rx="1" fill="#fff" shape-rendering="auto"/>
<polygon points="624.965,169 625,165.5 627.28,162.5 629.5,165.5 629.465,169" fill="#fff" shape-rendering="auto"/>
<text x="626.55" y="174.656" font-size="10.3" stroke="#000" text-anchor="middle" textLength="10.6" lengthAdjust="spacingAndGlyphs">J8</text>
<rect x="613.9" y="99" width="6.2" height="24.8" fill="#000"/>
<rect x="615.2" y="100.2" width="3.7" height="22.4" fill="#fff"/>
<rect x="616.2" y="103.7" width="3" height="1.2" fill="#000"/>
<rect x="616.2" y="108.5" width="3" height="1.2" fill="#000"/>
<rect x="616.2" y="113.3" width="3" height="1.2" fill="#000"/>
<rect x="616.2" y="118" width="3" height="1.2" fill="#000"/>
<rect x="616.2" y="120" width="1" height="2.6" fill="#000"/>
<rect x="618" y="120" width="1" height="2.6" fill="#000"/>
<polygon points="635.498,107.1 633.5,107 627.5,111.7 633.5,117 635.498,117.1" fill="#fff" stroke="#000" stroke-width="1.6" shape-rendering="auto"/>
<line x1="627.5" y1="111.7" x2="619.8" y2="111.7" stroke="#000" stroke-width="1.6" shape-rendering="auto"/>
<line x1="628.299" y1="111.74" x2="622.11" y2="111.7" stroke="#000" stroke-width="3.4" shape-rendering="auto"/>
<rect x="631.8" y="104.2" width="28.2" height="15.5" rx="2.5" fill="#000" shape-rendering="auto"/>
<rect x="633.7" y="106.1" width="24.2" height="11.5" rx="1" fill="#fff" shape-rendering="auto"/>
<polygon points="636.996,108.175 633.5,108 629.498,111.8 633.5,116 636.996,116.175" fill="#fff" shape-rendering="auto"/>
<text x="643.4" y="115.507" font-size="10.3" stroke="#000" text-anchor="middle" textLength="15.5" lengthAdjust="spacingAndGlyphs">J31</text>
<polygon points="509,265.831 511,265.8 517.5,269.4 511,273.2 509,273.231" fill="#fff" stroke="#000" stroke-width="1.6" shape-rendering="auto"/>
<line x1="517.5" y1="269.4" x2="524" y2="269.4" stroke="#000" stroke-width="1.6" shape-rendering="auto"/>
<line x1="516.7" y1="269.412" x2="522.05" y2="269.4" stroke="#000" stroke-width="3.4" shape-rendering="auto"/>
<rect x="484.3" y="262.2" width="28.6" height="14.7" rx="2.5" fill="#000" shape-rendering="auto"/>
<rect x="486.2" y="264.1" width="24.6" height="10.7" rx="1" fill="#fff" shape-rendering="auto"/>
<polygon points="507.5,266.854 511,266.8 515.5,269.431 511,272.2 507.5,272.254" fill="#fff" shape-rendering="auto"/>
<text x="498.5" y="273.106" font-size="10.3" stroke="#000" text-anchor="middle" textLength="17" lengthAdjust="spacingAndGlyphs">JP9</text>
<rect x="524" y="264" width="6" height="11" fill="#000"/>
<rect x="525.1" y="268.8" width="3.7" height="1" fill="#fff"/>
<polygon points="603.1,248.502 603,250.5 606,255.5 609.5,250.5 609.6,248.502" fill="#fff" stroke="#000" stroke-width="1.6" shape-rendering="auto"/>
<line x1="606" y1="255.5" x2="606" y2="265" stroke="#000" stroke-width="1.6" shape-rendering="auto"/>
<line x1="606.04" y1="254.701" x2="606" y2="262.15" stroke="#000" stroke-width="3.4" shape-rendering="auto"/>
<rect x="597.2" y="238.2" width="19.8" height="14.3" rx="2.5" fill="#000" shape-rendering="auto"/>
<rect x="599.1" y="240.1" width="15.8" height="10.3" rx="1" fill="#fff" shape-rendering="auto"/>
<polygon points="604.175,247.004 604,250.5 606.1,253.502 608.5,250.5 608.675,247.004" fill="#fff" shape-rendering="auto"/>
<text x="607" y="248.906" font-size="10.3" stroke="#000" text-anchor="middle" textLength="10.6" lengthAdjust="spacingAndGlyphs">J7</text>
<rect x="569.9" y="265" width="63.1" height="10.7" fill="#000"/>
<rect x="571.6" y="266.3" width="1.8" height="8.1" fill="#fff"/>
<rect x="576.7" y="266.3" width="1" height="8.1" fill="#fff"/>
<rect x="581.19" y="266.3" width="1" height="8.1" fill="#fff"/>
<rect x="585.68" y="266.3" width="1" height="8.1" fill="#fff"/>
<rect x="590.17" y="266.3" width="1" height="8.1" fill="#fff"/>
<rect x="594.66" y="266.3" width="1" height="8.1" fill="#fff"/>
<rect x="599.15" y="266.3" width="1" height="8.1" fill="#fff"/>
<rect x="603.64" y="266.3" width="1" height="8.1" fill="#fff"/>
<rect x="608.13" y="266.3" width="1" height="8.1" fill="#fff"/>
<rect x="612.62" y="266.3" width="1" height="8.1" fill="#fff"/>
<rect x="617.11" y="266.3" width="1" height="8.1" fill="#fff"/>
<rect x="621.6" y="266.3" width="1" height="8.1" fill="#fff"/>
<rect x="631" y="266.3" width="1" height="8.1" fill="#fff"/>
<rect x="571.5" y="270" width="60.5" height="1" fill="#fff"/>
<rect x="571" y="271" width="3.3" height="4" fill="#000"/>
<rect x="572" y="272" width="1.3" height="2" fill="#fff"/>
<rect x="571.4" y="271" width="0.8" height="4" fill="#000"/>
<polygon points="637.32,306.5 637.3,308.5 640.6,313.5 644,308.5 644.02,306.5" fill="#fff" stroke="#000" stroke-width="1.6" shape-rendering="auto"/>
<line x1="640.6" y1="313.5" x2="640.6" y2="323" stroke="#000" stroke-width="1.6" shape-rendering="auto"/>
<line x1="640.608" y1="312.7" x2="640.6" y2="320.15" stroke="#000" stroke-width="3.4" shape-rendering="auto"/>
<rect x="630.3" y="295.9" width="20.3" height="14.3" rx="2.5" fill="#000" shape-rendering="auto"/>
<rect x="632.2" y="297.8" width="16.3" height="10.3" rx="1" fill="#fff" shape-rendering="auto"/>
<polygon points="638.335,305 638.3,308.5 640.62,311.5 643,308.5 643.035,305" fill="#fff" shape-rendering="auto"/>
<text x="640.35" y="306.606" font-size="10.3" stroke="#000" text-anchor="middle" textLength="10.6" lengthAdjust="spacingAndGlyphs">J5</text>
<rect x="635.9" y="322.9" width="11.1" height="37.9" fill="#000"/>
<rect x="640.5" y="324" width="1" height="36" fill="#fff"/>
<rect x="645" y="324" width="1" height="36" fill="#fff"/>
<rect x="637.2" y="328" width="8.5" height="1" fill="#fff"/>
<rect x="637.2" y="332" width="8.5" height="1" fill="#fff"/>
<rect x="637.2" y="337" width="8.5" height="1" fill="#fff"/>
<rect x="637.2" y="346.5" width="8.5" height="1" fill="#fff"/>
<rect x="637.2" y="351" width="8.5" height="1" fill="#fff"/>
<rect x="637.2" y="355.5" width="8.5" height="1" fill="#fff"/>
<rect x="637.8" y="325" width="2" height="2" fill="#fff"/>
<rect x="594.8" y="322.8" width="20.1" height="89.9" fill="#000"/>
<rect x="596" y="324" width="17.7" height="87.5" fill="#fff"/>
<rect x="599" y="323" width="3" height="2.2" fill="#000"/>
<rect x="609" y="323" width="1" height="89" fill="#000"/>
<rect x="598.5" y="328.4" width="5.6" height="5.6" fill="#000" shape-rendering="auto"/>
<rect x="599.9" y="329.8" width="2.8" height="2.8" fill="#fff" shape-rendering="auto"/>
<rect x="605" y="324.5" width="1.8" height="5.9" fill="#000" shape-rendering="auto"/>
<rect x="609.5" y="325" width="3.4" height="4.8" rx="1" fill="#000" shape-rendering="auto"/>
<rect x="607.8" y="327.6" width="2" height="1" fill="#000" shape-rendering="auto"/>
<rect x="598.5" y="335.82" width="5.6" height="5.6" fill="#000" shape-rendering="auto"/>
<rect x="599.9" y="337.22" width="2.8" height="2.8" fill="#fff" shape-rendering="auto"/>
<rect x="605" y="331.92" width="1.8" height="5.9" fill="#000" shape-rendering="auto"/>
<rect x="609.5" y="332.42" width="3.4" height="4.8" rx="1" fill="#000" shape-rendering="auto"/>
<rect x="607.8" y="335.02" width="2" height="1" fill="#000" shape-rendering="auto"/>
<rect x="598.5" y="343.24" width="5.6" height="5.6" fill="#000" shape-rendering="auto"/>
<rect x="599.9" y="344.64" width="2.8" height="2.8" fill="#fff" shape-rendering="auto"/>
<rect x="605" y="339.34" width="1.8" height="5.9" fill="#000" shape-rendering="auto"/>
<rect x="609.5" y="339.84" width="3.4" height="4.8" rx="1" fill="#000" shape-rendering="auto"/>
<rect x="607.8" y="342.44" width="2" height="1" fill="#000" shape-rendering="auto"/>
<rect x="598.5" y="350.66" width="5.6" height="5.6" fill="#000" shape-rendering="auto"/>
<rect x="599.9" y="352.06" width="2.8" height="2.8" fill="#fff" shape-rendering="auto"/>
<rect x="605" y="346.76" width="1.8" height="5.9" fill="#000" shape-rendering="auto"/>
<rect x="609.5" y="347.26" width="3.4" height="4.8" rx="1" fill="#000" shape-rendering="auto"/>
<rect x="607.8" y="349.86" width="2" height="1" fill="#000" shape-rendering="auto"/>
<rect x="598.5" y="358.08" width="5.6" height="5.6" fill="#000" shape-rendering="auto"/>
<rect x="599.9" y="359.48" width="2.8" height="2.8" fill="#fff" shape-rendering="auto"/>
<rect x="605" y="354.18" width="1.8" height="5.9" fill="#000" shape-rendering="auto"/>
<rect x="609.5" y="354.68" width="3.4" height="4.8" rx="1" fill="#000" shape-rendering="auto"/>
<rect x="607.8" y="357.28" width="2" height="1" fill="#000" shape-rendering="auto"/>
<rect x="598.5" y="365.5" width="5.6" height="5.6" fill="#000" shape-rendering="auto"/>
<rect x="599.9" y="366.9" width="2.8" height="2.8" fill="#fff" shape-rendering="auto"/>
<rect x="605" y="361.6" width="1.8" height="5.9" fill="#000" shape-rendering="auto"/>
<rect x="609.5" y="362.1" width="3.4" height="4.8" rx="1" fill="#000" shape-rendering="auto"/>
<rect x="607.8" y="364.7" width="2" height="1" fill="#000" shape-rendering="auto"/>
<rect x="598.5" y="372.92" width="5.6" height="5.6" fill="#000" shape-rendering="auto"/>
<rect x="599.9" y="374.32" width="2.8" height="2.8" fill="#fff" shape-rendering="auto"/>
<rect x="605" y="369.02" width="1.8" height="5.9" fill="#000" shape-rendering="auto"/>
<rect x="609.5" y="369.52" width="3.4" height="4.8" rx="1" fill="#000" shape-rendering="auto"/>
<rect x="607.8" y="372.12" width="2" height="1" fill="#000" shape-rendering="auto"/>
<rect x="598.5" y="380.34" width="5.6" height="5.6" fill="#000" shape-rendering="auto"/>
<rect x="599.9" y="381.74" width="2.8" height="2.8" fill="#fff" shape-rendering="auto"/>
<rect x="605" y="376.44" width="1.8" height="5.9" fill="#000" shape-rendering="auto"/>
<rect x="609.5" y="376.94" width="3.4" height="4.8" rx="1" fill="#000" shape-rendering="auto"/>
<rect x="607.8" y="379.54" width="2" height="1" fill="#000" shape-rendering="auto"/>
<rect x="598.5" y="387.76" width="5.6" height="5.6" fill="#000" shape-rendering="auto"/>
<rect x="599.9" y="389.16" width="2.8" height="2.8" fill="#fff" shape-rendering="auto"/>
<rect x="605" y="383.86" width="1.8" height="5.9" fill="#000" shape-rendering="auto"/>
<rect x="609.5" y="384.36" width="3.4" height="4.8" rx="1" fill="#000" shape-rendering="auto"/>
<rect x="607.8" y="386.96" width="2" height="1" fill="#000" shape-rendering="auto"/>
<rect x="598.5" y="395.18" width="5.6" height="5.6" fill="#000" shape-rendering="auto"/>
<rect x="599.9" y="396.58" width="2.8" height="2.8" fill="#fff" shape-rendering="auto"/>
<rect x="605" y="391.28" width="1.8" height="5.9" fill="#000" shape-rendering="auto"/>
<rect x="609.5" y="391.78" width="3.4" height="4.8" rx="1" fill="#000" shape-rendering="auto"/>
<rect x="607.8" y="394.38" width="2" height="1" fill="#000" shape-rendering="auto"/>
<rect x="598.5" y="402.6" width="5.6" height="5.6" fill="#000" shape-rendering="auto"/>
<rect x="599.9" y="404" width="2.8" height="2.8" fill="#fff" shape-rendering="auto"/>
<rect x="605" y="398.7" width="1.8" height="5.9" fill="#000" shape-rendering="auto"/>
<rect x="609.5" y="399.2" width="3.4" height="4.8" rx="1" fill="#000" shape-rendering="auto"/>
<rect x="607.8" y="401.8" width="2" height="1" fill="#000" shape-rendering="auto"/>
<rect x="605" y="406.12" width="1.8" height="5.38" fill="#000" shape-rendering="auto"/>
<rect x="609.5" y="406.62" width="3.4" height="4.8" rx="1" fill="#000" shape-rendering="auto"/>
<rect x="607.8" y="409.22" width="2" height="1" fill="#000" shape-rendering="auto"/>
<rect x="628" y="378" width="19.5" height="29.8" fill="#000"/>
<rect x="647" y="374" width="3.5" height="37.5" fill="#000"/>
<rect x="650" y="371.6" width="3" height="41.8" fill="#000"/>
<rect x="622.7" y="383.4" width="6" height="8.2" fill="#000"/>
<rect x="623.8" y="384.5" width="3.6" height="6" fill="#fff"/>
<rect x="622.7" y="393.1" width="6" height="8.4" fill="#000"/>
<rect x="623.8" y="394.2" width="3.6" height="6.1" fill="#fff"/>
<rect x="626.5" y="391" width="2" height="3" fill="#000"/>
<rect x="365" y="352.1" width="221.9" height="52.6" fill="#000"/>
<rect x="581" y="353" width="5" height="0.9" fill="#fff" shape-rendering="auto"/>
<rect x="365.9" y="353" width="5" height="0.9" fill="#fff" shape-rendering="auto"/>
<rect x="581" y="355.2" width="5" height="3.5" fill="#fff" shape-rendering="auto"/>
<rect x="365.9" y="355.2" width="5" height="3.5" fill="#fff" shape-rendering="auto"/>
<rect x="581" y="360.2" width="5" height="3.4" fill="#fff" shape-rendering="auto"/>
<rect x="365.9" y="360.2" width="5" height="3.4" fill="#fff" shape-rendering="auto"/>
<rect x="570.1" y="354.3" width="7.8" height="8.5" fill="#fff" shape-rendering="auto"/>
<rect x="374" y="354.3" width="7.8" height="8.5" fill="#fff" shape-rendering="auto"/>
<rect x="571.4" y="355" width="5.4" height="0.8" fill="#000" shape-rendering="auto"/>
<rect x="375.1" y="355" width="5.4" height="0.8" fill="#000" shape-rendering="auto"/>
<rect x="571.4" y="355" width="0.8" height="4.8" fill="#000" shape-rendering="auto"/>
<rect x="379.7" y="355" width="0.8" height="4.8" fill="#000" shape-rendering="auto"/>
<rect x="576" y="355" width="0.8" height="4.1" fill="#000" shape-rendering="auto"/>
<rect x="375.1" y="355" width="0.8" height="4.1" fill="#000" shape-rendering="auto"/>
<rect x="573.4" y="358.3" width="3.4" height="0.8" fill="#000" shape-rendering="auto"/>
<rect x="375.1" y="358.3" width="3.4" height="0.8" fill="#000" shape-rendering="auto"/>
<rect x="572.8" y="358.3" width="0.8" height="4.1" fill="#000" shape-rendering="auto"/>
<rect x="378.3" y="358.3" width="0.8" height="4.1" fill="#000" shape-rendering="auto"/>
<rect x="573.4" y="361.7" width="4.5" height="0.8" fill="#000" shape-rendering="auto"/>
<rect x="374" y="361.7" width="4.5" height="0.8" fill="#000" shape-rendering="auto"/>
<rect x="568.4" y="353" width="1.2" height="11" fill="#fff" shape-rendering="auto"/>
<rect x="382.3" y="353" width="1.2" height="11" fill="#fff" shape-rendering="auto"/>
<rect x="568.4" y="359.1" width="2.4" height="5" fill="#fff" shape-rendering="auto"/>
<rect x="381.1" y="359.1" width="2.4" height="5" fill="#fff" shape-rendering="auto"/>
<rect x="568.4" y="353" width="9.5" height="0.9" fill="#fff" shape-rendering="auto"/>
<rect x="374" y="353" width="9.5" height="0.9" fill="#fff" shape-rendering="auto"/>
<rect x="381.1" y="363" width="189.7" height="1" fill="#fff"/>
<rect x="388.2" y="354.7" width="1" height="3.3" fill="#fff" shape-rendering="auto"/>
<rect x="390.32" y="354.7" width="1" height="3.3" fill="#fff" shape-rendering="auto"/>
<rect x="392.44" y="354.7" width="1" height="3.3" fill="#fff" shape-rendering="auto"/>
<rect x="394.56" y="354.7" width="1" height="3.3" fill="#fff" shape-rendering="auto"/>
<rect x="396.68" y="354.7" width="1" height="3.3" fill="#fff" shape-rendering="auto"/>
<rect x="390.32" y="353" width="1" height="0.9" fill="#fff" shape-rendering="auto"/>
<rect x="392.44" y="353" width="1" height="0.9" fill="#fff" shape-rendering="auto"/>
<rect x="405.1" y="354.7" width="1" height="3.3" fill="#fff" shape-rendering="auto"/>
<rect x="407.22" y="354.7" width="1" height="3.3" fill="#fff" shape-rendering="auto"/>
<rect x="409.34" y="354.7" width="1" height="3.3" fill="#fff" shape-rendering="auto"/>
<rect x="411.46" y="354.7" width="1" height="3.3" fill="#fff" shape-rendering="auto"/>
<rect x="407.22" y="353" width="1" height="0.9" fill="#fff" shape-rendering="auto"/>
<rect x="409.34" y="353" width="1" height="0.9" fill="#fff" shape-rendering="auto"/>
<rect x="420.3" y="354.7" width="1" height="3.3" fill="#fff" shape-rendering="auto"/>
<rect x="422.42" y="354.7" width="1" height="3.3" fill="#fff" shape-rendering="auto"/>
<rect x="424.54" y="354.7" width="1" height="3.3" fill="#fff" shape-rendering="auto"/>
<rect x="422.42" y="353" width="1" height="0.9" fill="#fff" shape-rendering="auto"/>
<rect x="433.1" y="354.7" width="1" height="3.3" fill="#fff" shape-rendering="auto"/>
<rect x="435.22" y="354.7" width="1" height="3.3" fill="#fff" shape-rendering="auto"/>
<rect x="437.34" y="354.7" width="1" height="3.3" fill="#fff" shape-rendering="auto"/>
<rect x="439.46" y="354.7" width="1" height="3.3" fill="#fff" shape-rendering="auto"/>
<rect x="441.58" y="354.7" width="1" height="3.3" fill="#fff" shape-rendering="auto"/>
<rect x="443.7" y="354.7" width="1" height="3.3" fill="#fff" shape-rendering="auto"/>
<rect x="435.22" y="353" width="1" height="0.9" fill="#fff" shape-rendering="auto"/>
<rect x="437.34" y="353" width="1" height="0.9" fill="#fff" shape-rendering="auto"/>
<rect x="441.58" y="353" width="1" height="0.9" fill="#fff" shape-rendering="auto"/>
<rect x="448.2" y="354.7" width="1" height="3.3" fill="#fff" shape-rendering="auto"/>
<rect x="450.32" y="354.7" width="1" height="3.3" fill="#fff" shape-rendering="auto"/>
<rect x="452.44" y="354.7" width="1" height="3.3" fill="#fff" shape-rendering="auto"/>
<rect x="454.56" y="354.7" width="1" height="3.3" fill="#fff" shape-rendering="auto"/>
<rect x="456.68" y="354.7" width="1" height="3.3" fill="#fff" shape-rendering="auto"/>
<rect x="450.32" y="353" width="1" height="0.9" fill="#fff" shape-rendering="auto"/>
<rect x="452.44" y="353" width="1" height="0.9" fill="#fff" shape-rendering="auto"/>
<rect x="464.8" y="354.7" width="1" height="3.3" fill="#fff" shape-rendering="auto"/>
<rect x="466.92" y="354.7" width="1" height="3.3" fill="#fff" shape-rendering="auto"/>
<rect x="469.04" y="354.7" width="1" height="3.3" fill="#fff" shape-rendering="auto"/>
<rect x="466.92" y="353" width="1" height="0.9" fill="#fff" shape-rendering="auto"/>
<rect x="486.5" y="354.7" width="1" height="3.3" fill="#fff" shape-rendering="auto"/>
<rect x="488.62" y="354.7" width="1" height="3.3" fill="#fff" shape-rendering="auto"/>
<rect x="490.74" y="354.7" width="1" height="3.3" fill="#fff" shape-rendering="auto"/>
<rect x="492.86" y="354.7" width="1" height="3.3" fill="#fff" shape-rendering="auto"/>
<rect x="488.62" y="353" width="1" height="0.9" fill="#fff" shape-rendering="auto"/>
<rect x="490.74" y="353" width="1" height="0.9" fill="#fff" shape-rendering="auto"/>
<rect x="502" y="354.7" width="1" height="3.3" fill="#fff" shape-rendering="auto"/>
<rect x="504.12" y="354.7" width="1" height="3.3" fill="#fff" shape-rendering="auto"/>
<rect x="506.24" y="354.7" width="1" height="3.3" fill="#fff" shape-rendering="auto"/>
<rect x="508.36" y="354.7" width="1" height="3.3" fill="#fff" shape-rendering="auto"/>
<rect x="510.48" y="354.7" width="1" height="3.3" fill="#fff" shape-rendering="auto"/>
<rect x="504.12" y="353" width="1" height="0.9" fill="#fff" shape-rendering="auto"/>
<rect x="506.24" y="353" width="1" height="0.9" fill="#fff" shape-rendering="auto"/>
<rect x="519" y="354.7" width="1" height="3.3" fill="#fff" shape-rendering="auto"/>
<rect x="521.12" y="354.7" width="1" height="3.3" fill="#fff" shape-rendering="auto"/>
<rect x="521.12" y="353" width="1" height="0.9" fill="#fff" shape-rendering="auto"/>
<rect x="531" y="354.7" width="1" height="3.3" fill="#fff" shape-rendering="auto"/>
<rect x="533.12" y="354.7" width="1" height="3.3" fill="#fff" shape-rendering="auto"/>
<rect x="535.24" y="354.7" width="1" height="3.3" fill="#fff" shape-rendering="auto"/>
<rect x="537.36" y="354.7" width="1" height="3.3" fill="#fff" shape-rendering="auto"/>
<rect x="539.48" y="354.7" width="1" height="3.3" fill="#fff" shape-rendering="auto"/>
<rect x="541.6" y="354.7" width="1" height="3.3" fill="#fff" shape-rendering="auto"/>
<rect x="533.12" y="353" width="1" height="0.9" fill="#fff" shape-rendering="auto"/>
<rect x="535.24" y="353" width="1" height="0.9" fill="#fff" shape-rendering="auto"/>
<rect x="539.48" y="353" width="1" height="0.9" fill="#fff" shape-rendering="auto"/>
<rect x="547" y="354.7" width="1" height="3.3" fill="#fff" shape-rendering="auto"/>
<rect x="549.12" y="354.7" width="1" height="3.3" fill="#fff" shape-rendering="auto"/>
<rect x="551.24" y="354.7" width="1" height="3.3" fill="#fff" shape-rendering="auto"/>
<rect x="553.36" y="354.7" width="1" height="3.3" fill="#fff" shape-rendering="auto"/>
<rect x="555.48" y="354.7" width="1" height="3.3" fill="#fff" shape-rendering="auto"/>
<rect x="549.12" y="353" width="1" height="0.9" fill="#fff" shape-rendering="auto"/>
<rect x="551.24" y="353" width="1" height="0.9" fill="#fff" shape-rendering="auto"/>
<rect x="561.5" y="354.7" width="1" height="3.3" fill="#fff" shape-rendering="auto"/>
<rect x="563.62" y="354.7" width="1" height="3.3" fill="#fff" shape-rendering="auto"/>
<rect x="565.74" y="354.7" width="1" height="3.3" fill="#fff" shape-rendering="auto"/>
<rect x="563.62" y="353" width="1" height="0.9" fill="#fff" shape-rendering="auto"/>
<rect x="581" y="366.6" width="5" height="0.9" fill="#fff" shape-rendering="auto"/>
<rect x="365.9" y="366.6" width="5" height="0.9" fill="#fff" shape-rendering="auto"/>
<rect x="581" y="368.8" width="5" height="3.5" fill="#fff" shape-rendering="auto"/>
<rect x="365.9" y="368.8" width="5" height="3.5" fill="#fff" shape-rendering="auto"/>
<rect x="581" y="373.5" width="5" height="3.4" fill="#fff" shape-rendering="auto"/>
<rect x="365.9" y="373.5" width="5" height="3.4" fill="#fff" shape-rendering="auto"/>
<rect x="570.1" y="367.9" width="7.8" height="8.5" fill="#fff" shape-rendering="auto"/>
<rect x="374" y="367.9" width="7.8" height="8.5" fill="#fff" shape-rendering="auto"/>
<rect x="571.4" y="368.6" width="5.4" height="0.8" fill="#000" shape-rendering="auto"/>
<rect x="375.1" y="368.6" width="5.4" height="0.8" fill="#000" shape-rendering="auto"/>
<rect x="571.4" y="368.6" width="0.8" height="4.8" fill="#000" shape-rendering="auto"/>
<rect x="379.7" y="368.6" width="0.8" height="4.8" fill="#000" shape-rendering="auto"/>
<rect x="576" y="368.6" width="0.8" height="4.1" fill="#000" shape-rendering="auto"/>
<rect x="375.1" y="368.6" width="0.8" height="4.1" fill="#000" shape-rendering="auto"/>
<rect x="573.4" y="371.9" width="3.4" height="0.8" fill="#000" shape-rendering="auto"/>
<rect x="375.1" y="371.9" width="3.4" height="0.8" fill="#000" shape-rendering="auto"/>
<rect x="572.8" y="371.9" width="0.8" height="4.1" fill="#000" shape-rendering="auto"/>
<rect x="378.3" y="371.9" width="0.8" height="4.1" fill="#000" shape-rendering="auto"/>
<rect x="573.4" y="375.3" width="4.5" height="0.8" fill="#000" shape-rendering="auto"/>
<rect x="374" y="375.3" width="4.5" height="0.8" fill="#000" shape-rendering="auto"/>
<rect x="568.4" y="366" width="1.2" height="11" fill="#fff" shape-rendering="auto"/>
<rect x="382.3" y="366" width="1.2" height="11" fill="#fff" shape-rendering="auto"/>
<rect x="568.4" y="372.1" width="2.4" height="5" fill="#fff" shape-rendering="auto"/>
<rect x="381.1" y="372.1" width="2.4" height="5" fill="#fff" shape-rendering="auto"/>
<rect x="372" y="366" width="207.9" height="1" fill="#fff"/>
<rect x="381.1" y="376" width="189.7" height="1" fill="#fff"/>
<rect x="388.2" y="368.3" width="1.1" height="3.9" fill="#fff" shape-rendering="auto"/>
<rect x="390.32" y="368.3" width="1.1" height="3.9" fill="#fff" shape-rendering="auto"/>
<rect x="392.44" y="368.3" width="1.1" height="3.9" fill="#fff" shape-rendering="auto"/>
<rect x="394.56" y="368.3" width="1.1" height="3.9" fill="#fff" shape-rendering="auto"/>
<rect x="396.68" y="368.3" width="1.1" height="3.9" fill="#fff" shape-rendering="auto"/>
<rect x="405.1" y="368.3" width="1.1" height="3.9" fill="#fff" shape-rendering="auto"/>
<rect x="407.22" y="368.3" width="1.1" height="3.9" fill="#fff" shape-rendering="auto"/>
<rect x="409.34" y="368.3" width="1.1" height="3.9" fill="#fff" shape-rendering="auto"/>
<rect x="411.46" y="368.3" width="1.1" height="3.9" fill="#fff" shape-rendering="auto"/>
<rect x="420.3" y="368.3" width="1.1" height="3.9" fill="#fff" shape-rendering="auto"/>
<rect x="422.42" y="368.3" width="1.1" height="3.9" fill="#fff" shape-rendering="auto"/>
<rect x="424.54" y="368.3" width="1.1" height="3.9" fill="#fff" shape-rendering="auto"/>
<rect x="433.1" y="368.3" width="1.1" height="3.9" fill="#fff" shape-rendering="auto"/>
<rect x="435.22" y="368.3" width="1.1" height="3.9" fill="#fff" shape-rendering="auto"/>
<rect x="437.34" y="368.3" width="1.1" height="3.9" fill="#fff" shape-rendering="auto"/>
<rect x="439.46" y="368.3" width="1.1" height="3.9" fill="#fff" shape-rendering="auto"/>
<rect x="441.58" y="368.3" width="1.1" height="3.9" fill="#fff" shape-rendering="auto"/>
<rect x="443.7" y="368.3" width="1.1" height="3.9" fill="#fff" shape-rendering="auto"/>
<rect x="448.2" y="368.3" width="1.1" height="3.9" fill="#fff" shape-rendering="auto"/>
<rect x="450.32" y="368.3" width="1.1" height="3.9" fill="#fff" shape-rendering="auto"/>
<rect x="452.44" y="368.3" width="1.1" height="3.9" fill="#fff" shape-rendering="auto"/>
<rect x="502" y="368.3" width="1.1" height="3.9" fill="#fff" shape-rendering="auto"/>
<rect x="504.12" y="368.3" width="1.1" height="3.9" fill="#fff" shape-rendering="auto"/>
<rect x="506.24" y="368.3" width="1.1" height="3.9" fill="#fff" shape-rendering="auto"/>
<rect x="508.36" y="368.3" width="1.1" height="3.9" fill="#fff" shape-rendering="auto"/>
<rect x="510.48" y="368.3" width="1.1" height="3.9" fill="#fff" shape-rendering="auto"/>
<rect x="517.5" y="368.3" width="1.1" height="3.9" fill="#fff" shape-rendering="auto"/>
<rect x="519.62" y="368.3" width="1.1" height="3.9" fill="#fff" shape-rendering="auto"/>
<rect x="521.74" y="368.3" width="1.1" height="3.9" fill="#fff" shape-rendering="auto"/>
<rect x="530" y="368.3" width="1.1" height="3.9" fill="#fff" shape-rendering="auto"/>
<rect x="532.12" y="368.3" width="1.1" height="3.9" fill="#fff" shape-rendering="auto"/>
<rect x="534.24" y="368.3" width="1.1" height="3.9" fill="#fff" shape-rendering="auto"/>
<rect x="536.36" y="368.3" width="1.1" height="3.9" fill="#fff" shape-rendering="auto"/>
<rect x="538.48" y="368.3" width="1.1" height="3.9" fill="#fff" shape-rendering="auto"/>
<rect x="540.6" y="368.3" width="1.1" height="3.9" fill="#fff" shape-rendering="auto"/>
<rect x="542.72" y="368.3" width="1.1" height="3.9" fill="#fff" shape-rendering="auto"/>
<rect x="546.5" y="368.3" width="1.1" height="3.9" fill="#fff" shape-rendering="auto"/>
<rect x="548.62" y="368.3" width="1.1" height="3.9" fill="#fff" shape-rendering="auto"/>
<rect x="550.74" y="368.3" width="1.1" height="3.9" fill="#fff" shape-rendering="auto"/>
<rect x="552.86" y="368.3" width="1.1" height="3.9" fill="#fff" shape-rendering="auto"/>
<rect x="554.98" y="368.3" width="1.1" height="3.9" fill="#fff" shape-rendering="auto"/>
<rect x="557.1" y="368.3" width="1.1" height="3.9" fill="#fff" shape-rendering="auto"/>
<rect x="561" y="368.3" width="1.1" height="3.9" fill="#fff" shape-rendering="auto"/>
<rect x="563.12" y="368.3" width="1.1" height="3.9" fill="#fff" shape-rendering="auto"/>
<rect x="565.24" y="368.3" width="1.1" height="3.9" fill="#fff" shape-rendering="auto"/>
<rect x="581" y="379.5" width="5" height="0.9" fill="#fff" shape-rendering="auto"/>
<rect x="365.9" y="379.5" width="5" height="0.9" fill="#fff" shape-rendering="auto"/>
<rect x="581" y="381.7" width="5" height="3.5" fill="#fff" shape-rendering="auto"/>
<rect x="365.9" y="381.7" width="5" height="3.5" fill="#fff" shape-rendering="auto"/>
<rect x="581" y="386.7" width="5" height="3.4" fill="#fff" shape-rendering="auto"/>
<rect x="365.9" y="386.7" width="5" height="3.4" fill="#fff" shape-rendering="auto"/>
<rect x="570.1" y="380.8" width="7.8" height="8.5" fill="#fff" shape-rendering="auto"/>
<rect x="374" y="380.8" width="7.8" height="8.5" fill="#fff" shape-rendering="auto"/>
<rect x="571.4" y="381.5" width="5.4" height="0.8" fill="#000" shape-rendering="auto"/>
<rect x="375.1" y="381.5" width="5.4" height="0.8" fill="#000" shape-rendering="auto"/>
<rect x="571.4" y="381.5" width="0.8" height="4.8" fill="#000" shape-rendering="auto"/>
<rect x="379.7" y="381.5" width="0.8" height="4.8" fill="#000" shape-rendering="auto"/>
<rect x="576" y="381.5" width="0.8" height="4.1" fill="#000" shape-rendering="auto"/>
<rect x="375.1" y="381.5" width="0.8" height="4.1" fill="#000" shape-rendering="auto"/>
<rect x="573.4" y="384.8" width="3.4" height="0.8" fill="#000" shape-rendering="auto"/>
<rect x="375.1" y="384.8" width="3.4" height="0.8" fill="#000" shape-rendering="auto"/>
<rect x="572.8" y="384.8" width="0.8" height="4.1" fill="#000" shape-rendering="auto"/>
<rect x="378.3" y="384.8" width="0.8" height="4.1" fill="#000" shape-rendering="auto"/>
<rect x="573.4" y="388.2" width="4.5" height="0.8" fill="#000" shape-rendering="auto"/>
<rect x="374" y="388.2" width="4.5" height="0.8" fill="#000" shape-rendering="auto"/>
<rect x="568.4" y="379.5" width="1.2" height="11" fill="#fff" shape-rendering="auto"/>
<rect x="382.3" y="379.5" width="1.2" height="11" fill="#fff" shape-rendering="auto"/>
<rect x="568.4" y="385.6" width="2.4" height="5" fill="#fff" shape-rendering="auto"/>
<rect x="381.1" y="385.6" width="2.4" height="5" fill="#fff" shape-rendering="auto"/>
<rect x="568.4" y="379.5" width="9.5" height="0.9" fill="#fff" shape-rendering="auto"/>
<rect x="374" y="379.5" width="9.5" height="0.9" fill="#fff" shape-rendering="auto"/>
<rect x="381.1" y="390" width="189.7" height="1" fill="#fff"/>
<rect x="388.2" y="381.2" width="1" height="3.3" fill="#fff" shape-rendering="auto"/>
<rect x="390.32" y="381.2" width="1" height="3.3" fill="#fff" shape-rendering="auto"/>
<rect x="392.44" y="381.2" width="1" height="3.3" fill="#fff" shape-rendering="auto"/>
<rect x="394.56" y="381.2" width="1" height="3.3" fill="#fff" shape-rendering="auto"/>
<rect x="396.68" y="381.2" width="1" height="3.3" fill="#fff" shape-rendering="auto"/>
<rect x="390.32" y="379.5" width="1" height="0.9" fill="#fff" shape-rendering="auto"/>
<rect x="392.44" y="379.5" width="1" height="0.9" fill="#fff" shape-rendering="auto"/>
<rect x="405.1" y="381.2" width="1" height="3.3" fill="#fff" shape-rendering="auto"/>
<rect x="407.22" y="381.2" width="1" height="3.3" fill="#fff" shape-rendering="auto"/>
<rect x="409.34" y="381.2" width="1" height="3.3" fill="#fff" shape-rendering="auto"/>
<rect x="411.46" y="381.2" width="1" height="3.3" fill="#fff" shape-rendering="auto"/>
<rect x="407.22" y="379.5" width="1" height="0.9" fill="#fff" shape-rendering="auto"/>
<rect x="409.34" y="379.5" width="1" height="0.9" fill="#fff" shape-rendering="auto"/>
<rect x="420.3" y="381.2" width="1" height="3.3" fill="#fff" shape-rendering="auto"/>
<rect x="422.42" y="381.2" width="1" height="3.3" fill="#fff" shape-rendering="auto"/>
<rect x="424.54" y="381.2" width="1" height="3.3" fill="#fff" shape-rendering="auto"/>
<rect x="422.42" y="379.5" width="1" height="0.9" fill="#fff" shape-rendering="auto"/>
<rect x="433.1" y="381.2" width="1" height="3.3" fill="#fff" shape-rendering="auto"/>
<rect x="435.22" y="381.2" width="1" height="3.3" fill="#fff" shape-rendering="auto"/>
<rect x="437.34" y="381.2" width="1" height="3.3" fill="#fff" shape-rendering="auto"/>
<rect x="439.46" y="381.2" width="1" height="3.3" fill="#fff" shape-rendering="auto"/>
<rect x="441.58" y="381.2" width="1" height="3.3" fill="#fff" shape-rendering="auto"/>
<rect x="443.7" y="381.2" width="1" height="3.3" fill="#fff" shape-rendering="auto"/>
<rect x="435.22" y="379.5" width="1" height="0.9" fill="#fff" shape-rendering="auto"/>
<rect x="437.34" y="379.5" width="1" height="0.9" fill="#fff" shape-rendering="auto"/>
<rect x="441.58" y="379.5" width="1" height="0.9" fill="#fff" shape-rendering="auto"/>
<rect x="448.2" y="381.2" width="1" height="3.3" fill="#fff" shape-rendering="auto"/>
<rect x="450.32" y="381.2" width="1" height="3.3" fill="#fff" shape-rendering="auto"/>
<rect x="452.44" y="381.2" width="1" height="3.3" fill="#fff" shape-rendering="auto"/>
<rect x="454.56" y="381.2" width="1" height="3.3" fill="#fff" shape-rendering="auto"/>
<rect x="456.68" y="381.2" width="1" height="3.3" fill="#fff" shape-rendering="auto"/>
<rect x="450.32" y="379.5" width="1" height="0.9" fill="#fff" shape-rendering="auto"/>
<rect x="452.44" y="379.5" width="1" height="0.9" fill="#fff" shape-rendering="auto"/>
<rect x="464.8" y="381.2" width="1" height="3.3" fill="#fff" shape-rendering="auto"/>
<rect x="466.92" y="381.2" width="1" height="3.3" fill="#fff" shape-rendering="auto"/>
<rect x="469.04" y="381.2" width="1" height="3.3" fill="#fff" shape-rendering="auto"/>
<rect x="466.92" y="379.5" width="1" height="0.9" fill="#fff" shape-rendering="auto"/>
<rect x="486.5" y="381.2" width="1" height="3.3" fill="#fff" shape-rendering="auto"/>
<rect x="488.62" y="381.2" width="1" height="3.3" fill="#fff" shape-rendering="auto"/>
<rect x="490.74" y="381.2" width="1" height="3.3" fill="#fff" shape-rendering="auto"/>
<rect x="492.86" y="381.2" width="1" height="3.3" fill="#fff" shape-rendering="auto"/>
<rect x="488.62" y="379.5" width="1" height="0.9" fill="#fff" shape-rendering="auto"/>
<rect x="490.74" y="379.5" width="1" height="0.9" fill="#fff" shape-rendering="auto"/>
<rect x="502" y="381.2" width="1" height="3.3" fill="#fff" shape-rendering="auto"/>
<rect x="504.12" y="381.2" width="1" height="3.3" fill="#fff" shape-rendering="auto"/>
<rect x="506.24" y="381.2" width="1" height="3.3" fill="#fff" shape-rendering="auto"/>
<rect x="508.36" y="381.2" width="1" height="3.3" fill="#fff" shape-rendering="auto"/>
<rect x="510.48" y="381.2" width="1" height="3.3" fill="#fff" shape-rendering="auto"/>
<rect x="504.12" y="379.5" width="1" height="0.9" fill="#fff" shape-rendering="auto"/>
<rect x="506.24" y="379.5" width="1" height="0.9" fill="#fff" shape-rendering="auto"/>
<rect x="519" y="381.2" width="1" height="3.3" fill="#fff" shape-rendering="auto"/>
<rect x="521.12" y="381.2" width="1" height="3.3" fill="#fff" shape-rendering="auto"/>
<rect x="521.12" y="379.5" width="1" height="0.9" fill="#fff" shape-rendering="auto"/>
<rect x="531" y="381.2" width="1" height="3.3" fill="#fff" shape-rendering="auto"/>
<rect x="533.12" y="381.2" width="1" height="3.3" fill="#fff" shape-rendering="auto"/>
<rect x="535.24" y="381.2" width="1" height="3.3" fill="#fff" shape-rendering="auto"/>
<rect x="537.36" y="381.2" width="1" height="3.3" fill="#fff" shape-rendering="auto"/>
<rect x="539.48" y="381.2" width="1" height="3.3" fill="#fff" shape-rendering="auto"/>
<rect x="541.6" y="381.2" width="1" height="3.3" fill="#fff" shape-rendering="auto"/>
<rect x="533.12" y="379.5" width="1" height="0.9" fill="#fff" shape-rendering="auto"/>
<rect x="535.24" y="379.5" width="1" height="0.9" fill="#fff" shape-rendering="auto"/>
<rect x="539.48" y="379.5" width="1" height="0.9" fill="#fff" shape-rendering="auto"/>
<rect x="547" y="381.2" width="1" height="3.3" fill="#fff" shape-rendering="auto"/>
<rect x="549.12" y="381.2" width="1" height="3.3" fill="#fff" shape-rendering="auto"/>
<rect x="551.24" y="381.2" width="1" height="3.3" fill="#fff" shape-rendering="auto"/>
<rect x="553.36" y="381.2" width="1" height="3.3" fill="#fff" shape-rendering="auto"/>
<rect x="555.48" y="381.2" width="1" height="3.3" fill="#fff" shape-rendering="auto"/>
<rect x="549.12" y="379.5" width="1" height="0.9" fill="#fff" shape-rendering="auto"/>
<rect x="551.24" y="379.5" width="1" height="0.9" fill="#fff" shape-rendering="auto"/>
<rect x="561.5" y="381.2" width="1" height="3.3" fill="#fff" shape-rendering="auto"/>
<rect x="563.62" y="381.2" width="1" height="3.3" fill="#fff" shape-rendering="auto"/>
<rect x="565.74" y="381.2" width="1" height="3.3" fill="#fff" shape-rendering="auto"/>
<rect x="563.62" y="379.5" width="1" height="0.9" fill="#fff" shape-rendering="auto"/>
<rect x="581" y="393.1" width="5" height="0.9" fill="#fff" shape-rendering="auto"/>
<rect x="365.9" y="393.1" width="5" height="0.9" fill="#fff" shape-rendering="auto"/>
<rect x="581" y="395.3" width="5" height="3.5" fill="#fff" shape-rendering="auto"/>
<rect x="365.9" y="395.3" width="5" height="3.5" fill="#fff" shape-rendering="auto"/>
<rect x="581" y="400" width="5" height="3.4" fill="#fff" shape-rendering="auto"/>
<rect x="365.9" y="400" width="5" height="3.4" fill="#fff" shape-rendering="auto"/>
<rect x="570.1" y="394.4" width="7.8" height="8.5" fill="#fff" shape-rendering="auto"/>
<rect x="374" y="394.4" width="7.8" height="8.5" fill="#fff" shape-rendering="auto"/>
<rect x="571.4" y="395.1" width="5.4" height="0.8" fill="#000" shape-rendering="auto"/>
<rect x="375.1" y="395.1" width="5.4" height="0.8" fill="#000" shape-rendering="auto"/>
<rect x="571.4" y="395.1" width="0.8" height="4.8" fill="#000" shape-rendering="auto"/>
<rect x="379.7" y="395.1" width="0.8" height="4.8" fill="#000" shape-rendering="auto"/>
<rect x="576" y="395.1" width="0.8" height="4.1" fill="#000" shape-rendering="auto"/>
<rect x="375.1" y="395.1" width="0.8" height="4.1" fill="#000" shape-rendering="auto"/>
<rect x="573.4" y="398.4" width="3.4" height="0.8" fill="#000" shape-rendering="auto"/>
<rect x="375.1" y="398.4" width="3.4" height="0.8" fill="#000" shape-rendering="auto"/>
<rect x="572.8" y="398.4" width="0.8" height="4.1" fill="#000" shape-rendering="auto"/>
<rect x="378.3" y="398.4" width="0.8" height="4.1" fill="#000" shape-rendering="auto"/>
<rect x="573.4" y="401.8" width="4.5" height="0.8" fill="#000" shape-rendering="auto"/>
<rect x="374" y="401.8" width="4.5" height="0.8" fill="#000" shape-rendering="auto"/>
<rect x="568.4" y="392.5" width="1.2" height="11" fill="#fff" shape-rendering="auto"/>
<rect x="382.3" y="392.5" width="1.2" height="11" fill="#fff" shape-rendering="auto"/>
<rect x="568.4" y="398.6" width="2.4" height="5" fill="#fff" shape-rendering="auto"/>
<rect x="381.1" y="398.6" width="2.4" height="5" fill="#fff" shape-rendering="auto"/>
<rect x="372" y="392" width="207.9" height="1" fill="#fff"/>
<rect x="381.1" y="402" width="189.7" height="1" fill="#fff"/>
<rect x="388.2" y="394.8" width="1.1" height="3.9" fill="#fff" shape-rendering="auto"/>
<rect x="390.32" y="394.8" width="1.1" height="3.9" fill="#fff" shape-rendering="auto"/>
<rect x="392.44" y="394.8" width="1.1" height="3.9" fill="#fff" shape-rendering="auto"/>
<rect x="394.56" y="394.8" width="1.1" height="3.9" fill="#fff" shape-rendering="auto"/>
<rect x="396.68" y="394.8" width="1.1" height="3.9" fill="#fff" shape-rendering="auto"/>
<rect x="405.1" y="394.8" width="1.1" height="3.9" fill="#fff" shape-rendering="auto"/>
<rect x="407.22" y="394.8" width="1.1" height="3.9" fill="#fff" shape-rendering="auto"/>
<rect x="409.34" y="394.8" width="1.1" height="3.9" fill="#fff" shape-rendering="auto"/>
<rect x="411.46" y="394.8" width="1.1" height="3.9" fill="#fff" shape-rendering="auto"/>
<rect x="420.3" y="394.8" width="1.1" height="3.9" fill="#fff" shape-rendering="auto"/>
<rect x="422.42" y="394.8" width="1.1" height="3.9" fill="#fff" shape-rendering="auto"/>
<rect x="424.54" y="394.8" width="1.1" height="3.9" fill="#fff" shape-rendering="auto"/>
<rect x="433.1" y="394.8" width="1.1" height="3.9" fill="#fff" shape-rendering="auto"/>
<rect x="435.22" y="394.8" width="1.1" height="3.9" fill="#fff" shape-rendering="auto"/>
<rect x="437.34" y="394.8" width="1.1" height="3.9" fill="#fff" shape-rendering="auto"/>
<rect x="439.46" y="394.8" width="1.1" height="3.9" fill="#fff" shape-rendering="auto"/>
<rect x="441.58" y="394.8" width="1.1" height="3.9" fill="#fff" shape-rendering="auto"/>
<rect x="443.7" y="394.8" width="1.1" height="3.9" fill="#fff" shape-rendering="auto"/>
<rect x="448.2" y="394.8" width="1.1" height="3.9" fill="#fff" shape-rendering="auto"/>
<rect x="450.32" y="394.8" width="1.1" height="3.9" fill="#fff" shape-rendering="auto"/>
<rect x="452.44" y="394.8" width="1.1" height="3.9" fill="#fff" shape-rendering="auto"/>
<rect x="502" y="394.8" width="1.1" height="3.9" fill="#fff" shape-rendering="auto"/>
<rect x="504.12" y="394.8" width="1.1" height="3.9" fill="#fff" shape-rendering="auto"/>
<rect x="506.24" y="394.8" width="1.1" height="3.9" fill="#fff" shape-rendering="auto"/>
<rect x="508.36" y="394.8" width="1.1" height="3.9" fill="#fff" shape-rendering="auto"/>
<rect x="510.48" y="394.8" width="1.1" height="3.9" fill="#fff" shape-rendering="auto"/>
<rect x="517.5" y="394.8" width="1.1" height="3.9" fill="#fff" shape-rendering="auto"/>
<rect x="519.62" y="394.8" width="1.1" height="3.9" fill="#fff" shape-rendering="auto"/>
<rect x="521.74" y="394.8" width="1.1" height="3.9" fill="#fff" shape-rendering="auto"/>
<rect x="530" y="394.8" width="1.1" height="3.9" fill="#fff" shape-rendering="auto"/>
<rect x="532.12" y="394.8" width="1.1" height="3.9" fill="#fff" shape-rendering="auto"/>
<rect x="534.24" y="394.8" width="1.1" height="3.9" fill="#fff" shape-rendering="auto"/>
<rect x="536.36" y="394.8" width="1.1" height="3.9" fill="#fff" shape-rendering="auto"/>
<rect x="538.48" y="394.8" width="1.1" height="3.9" fill="#fff" shape-rendering="auto"/>
<rect x="540.6" y="394.8" width="1.1" height="3.9" fill="#fff" shape-rendering="auto"/>
<rect x="542.72" y="394.8" width="1.1" height="3.9" fill="#fff" shape-rendering="auto"/>
<rect x="546.5" y="394.8" width="1.1" height="3.9" fill="#fff" shape-rendering="auto"/>
<rect x="548.62" y="394.8" width="1.1" height="3.9" fill="#fff" shape-rendering="auto"/>
<rect x="550.74" y="394.8" width="1.1" height="3.9" fill="#fff" shape-rendering="auto"/>
<rect x="552.86" y="394.8" width="1.1" height="3.9" fill="#fff" shape-rendering="auto"/>
<rect x="554.98" y="394.8" width="1.1" height="3.9" fill="#fff" shape-rendering="auto"/>
<rect x="557.1" y="394.8" width="1.1" height="3.9" fill="#fff" shape-rendering="auto"/>
<rect x="561" y="394.8" width="1.1" height="3.9" fill="#fff" shape-rendering="auto"/>
<rect x="563.12" y="394.8" width="1.1" height="3.9" fill="#fff" shape-rendering="auto"/>
<rect x="565.24" y="394.8" width="1.1" height="3.9" fill="#fff" shape-rendering="auto"/>
<rect x="365" y="377.6" width="221.9" height="1" fill="#fff"/>
<rect x="472" y="353.4" width="7.5" height="3" fill="#fff"/>
<rect x="472" y="372.3" width="7.5" height="3.7" fill="#fff"/>
<rect x="472" y="379.9" width="7.5" height="3" fill="#fff"/>
<rect x="472" y="398.8" width="7.5" height="3.7" fill="#fff"/>
<rect x="452" y="358.6" width="48.2" height="12.6" fill="#000"/>
<rect x="453" y="359.6" width="46.2" height="10.6" fill="#fff"/>
<rect x="452" y="384.8" width="48.2" height="12.6" fill="#000"/>
<rect x="453" y="385.8" width="46.2" height="10.6" fill="#fff"/>
<text x="476" y="368.8" font-size="11" fill="#000" stroke="#000" text-anchor="middle" textLength="39" lengthAdjust="spacingAndGlyphs">BANK 0</text>
<text x="476" y="395" font-size="11" fill="#000" stroke="#000" text-anchor="middle" textLength="39" lengthAdjust="spacingAndGlyphs">BANK 1</text>
</svg>
</body></html>
